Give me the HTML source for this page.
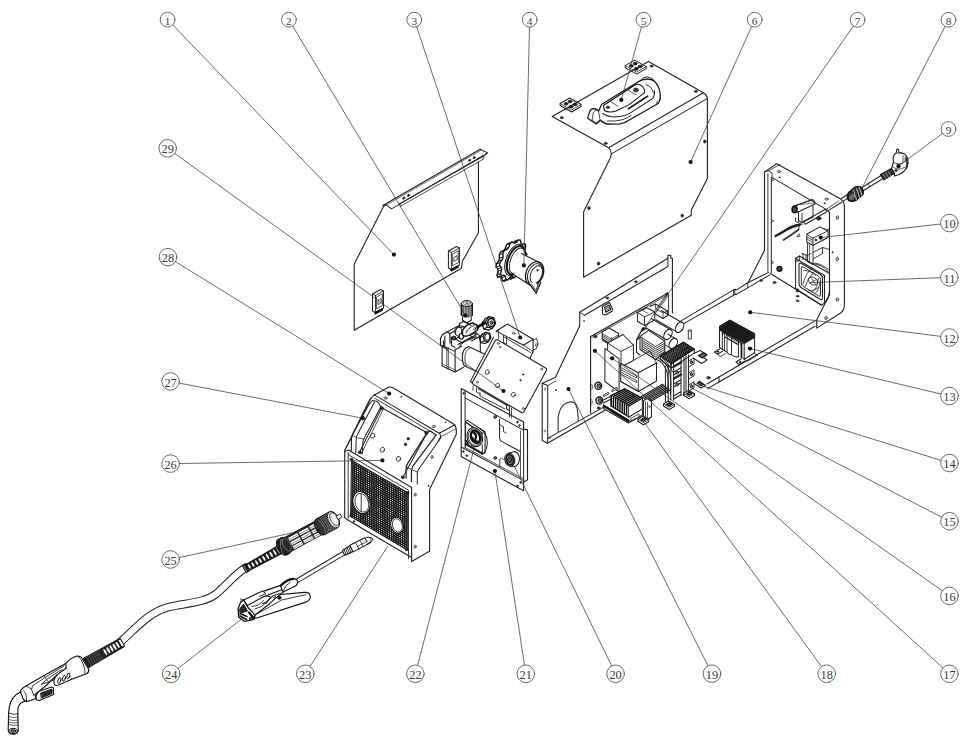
<!DOCTYPE html>
<html><head><meta charset="utf-8"><title>Exploded view</title><style>
html,body{margin:0;padding:0;background:#fff}
svg{display:block}
text{font-family:"Liberation Serif",serif;fill:#3a3a3a;text-anchor:middle}
</style></head><body>
<svg width="962" height="738" viewBox="0 0 962 738" stroke-linejoin="round" stroke-linecap="round">
<rect width="962" height="738" fill="#fff"/>
<g id="p_panel">
<path d="M383.5,206.5 L354.2,264.2 L354.2,330.2 L461.5,268.3 L462.3,261.5 L478.4,232.7 L478.4,161.8" stroke="#222" stroke-width="1.12" fill="none" />
<path d="M382.8,205.5 L480.1,149.2 L487.6,152.9 L391.6,208.9 L386.5,205.2 L382.8,205.5" stroke="#222" stroke-width="1.01" fill="none" />
<path d="M383.6,206.6 L480.6,150.4" stroke="#222" stroke-width="0.67" fill="none" />
<path d="M399.7,203.6 L483.6,156.0" stroke="#222" stroke-width="1.01" fill="none" />
<path d="M400.4,206.3 L482.9,159.4" stroke="#222" stroke-width="0.78" fill="none" />
<path d="M487.6,152.9 L483.5,157.2 L482.9,159.4" stroke="#222" stroke-width="0.9" fill="none" />
<path d="M399.7,203.6 L400.4,206.3" stroke="#222" stroke-width="0.78" fill="none" />
<ellipse cx="403.8" cy="198.1" rx="1.3" ry="0.9" transform="rotate(-30 403.8 198.1)" stroke="#111" stroke-width="0.5" fill="#111"/>
<ellipse cx="408.5" cy="195.4" rx="1.3" ry="0.9" transform="rotate(-30 408.5 195.4)" stroke="#111" stroke-width="0.5" fill="#111"/>
<ellipse cx="469.7" cy="160.3" rx="1.3" ry="0.9" transform="rotate(-30 469.7 160.3)" stroke="#111" stroke-width="0.5" fill="#111"/>
<ellipse cx="474.1" cy="157.7" rx="1.3" ry="0.9" transform="rotate(-30 474.1 157.7)" stroke="#111" stroke-width="0.5" fill="#111"/>
<path d="M448.4,251.0 L456.4,246.5 L459.4,248.0 L459.4,265.0 L451.4,269.5 L448.4,268.0 Z" stroke="#222" stroke-width="1.01" fill="none" />
<path d="M448.4,251.0 L451.4,252.5 L459.4,248.0" stroke="#222" stroke-width="0.9" fill="none" />
<path d="M451.4,252.5 L451.4,269.5" stroke="#222" stroke-width="0.9" fill="none" />
<path d="M452.7,254.0 L458.3,250.7 L458.3,262.5 L452.7,265.7 Z" stroke="#222" stroke-width="0.78" fill="none" />
<path d="M454.2,257.3 L457.1,255.6 L457.1,259.7 L454.2,261.4 Z" stroke="#222" stroke-width="0.78" fill="none" />
<path d="M450.3,270.7 L458.5,266.3" stroke="#111" stroke-width="2.46" fill="none" stroke-linecap="butt"/>
<path d="M372.5,294.0 L380.5,289.5 L383.5,291.0 L383.5,308.0 L375.5,312.5 L372.5,311.0 Z" stroke="#222" stroke-width="1.01" fill="none" />
<path d="M372.5,294.0 L375.5,295.5 L383.5,291.0" stroke="#222" stroke-width="0.9" fill="none" />
<path d="M375.5,295.5 L375.5,312.5" stroke="#222" stroke-width="0.9" fill="none" />
<path d="M376.8,297.0 L382.4,293.7 L382.4,305.5 L376.8,308.7 Z" stroke="#222" stroke-width="0.78" fill="none" />
<path d="M378.3,300.3 L381.2,298.6 L381.2,302.7 L378.3,304.4 Z" stroke="#222" stroke-width="0.78" fill="none" />
<path d="M374.4,313.7 L382.6,309.3" stroke="#111" stroke-width="2.46" fill="none" stroke-linecap="butt"/>
</g>
<g id="p_cover">
<path d="M552.2,116.4 L648.4,61.4 L703.4,92.7 Q707.4,95 707.4,99.5 L707.4,178.6 L691.3,210.1 L691.3,215.2 L583.6,277.2 L583.6,211.8 L610.2,158.3 Q612.8,152 608.6,147.7 Z" stroke="#222" stroke-width="1.12" fill="none" />
<path d="M608.6,147.7 L703.4,92.7" stroke="#222" stroke-width="1.01" fill="none" />
<path d="M611.8,153.6 L707.2,98.6" stroke="#222" stroke-width="1.01" fill="none" />
<ellipse cx="561.7" cy="117.7" rx="1.6" ry="1.1" transform="rotate(0 561.7 117.7)" stroke="#111" stroke-width="0.5" fill="#333"/>
<ellipse cx="651.6" cy="66.1" rx="1.6" ry="1.1" transform="rotate(0 651.6 66.1)" stroke="#111" stroke-width="0.5" fill="#333"/>
<ellipse cx="695.9" cy="91.4" rx="1.6" ry="1.1" transform="rotate(0 695.9 91.4)" stroke="#111" stroke-width="0.5" fill="#333"/>
<ellipse cx="605.7" cy="143.4" rx="1.6" ry="1.1" transform="rotate(0 605.7 143.4)" stroke="#111" stroke-width="0.5" fill="#333"/>
<ellipse cx="704.8" cy="141.5" rx="1.3" ry="1.7" transform="rotate(0 704.8 141.5)" stroke="#111" stroke-width="0.5" fill="#333"/>
<ellipse cx="588.9" cy="208.1" rx="1.3" ry="1.7" transform="rotate(0 588.9 208.1)" stroke="#111" stroke-width="0.5" fill="#333"/>
<ellipse cx="598.5" cy="263.6" rx="1.3" ry="1.7" transform="rotate(0 598.5 263.6)" stroke="#111" stroke-width="0.5" fill="#333"/>
<ellipse cx="682.2" cy="215.6" rx="1.3" ry="1.7" transform="rotate(0 682.2 215.6)" stroke="#111" stroke-width="0.5" fill="#333"/>
<path d="M560.1,103.5 L569.6,98.0 L581.1,104.5 L581.1,106.5 L571.6,112.0 L560.1,105.5 Z" stroke="#222" stroke-width="1.01" fill="none" />
<path d="M560.1,103.5 L571.6,110.0 L581.1,104.5" stroke="#222" stroke-width="0.78" fill="none" />
<ellipse cx="566.1" cy="103.8" rx="1.9" ry="1.3" transform="rotate(0 566.1 103.8)" stroke="#111" stroke-width="0.8" fill="#222"/>
<ellipse cx="570.1" cy="101.5" rx="1.9" ry="1.3" transform="rotate(0 570.1 101.5)" stroke="#111" stroke-width="0.8" fill="#222"/>
<ellipse cx="571.1" cy="106.8" rx="1.9" ry="1.3" transform="rotate(0 571.1 106.8)" stroke="#111" stroke-width="0.8" fill="#222"/>
<ellipse cx="575.1" cy="104.4" rx="1.9" ry="1.3" transform="rotate(0 575.1 104.4)" stroke="#111" stroke-width="0.8" fill="#222"/>
<path d="M625.2,65.6 L634.7,60.1 L646.2,66.6 L646.2,68.6 L636.7,74.1 L625.2,67.6 Z" stroke="#222" stroke-width="1.01" fill="none" />
<path d="M625.2,65.6 L636.7,72.1 L646.2,66.6" stroke="#222" stroke-width="0.78" fill="none" />
<ellipse cx="631.2" cy="65.9" rx="1.9" ry="1.3" transform="rotate(0 631.2 65.9)" stroke="#111" stroke-width="0.8" fill="#222"/>
<ellipse cx="635.2" cy="63.6" rx="1.9" ry="1.3" transform="rotate(0 635.2 63.6)" stroke="#111" stroke-width="0.8" fill="#222"/>
<ellipse cx="636.2" cy="68.9" rx="1.9" ry="1.3" transform="rotate(0 636.2 68.9)" stroke="#111" stroke-width="0.8" fill="#222"/>
<ellipse cx="640.2" cy="66.5" rx="1.9" ry="1.3" transform="rotate(0 640.2 66.5)" stroke="#111" stroke-width="0.8" fill="#222"/>
<path d="M587.6,118.4 L589.7,111.5 Q590.5,108.6 593.8,108.6 Q597.5,108.8 598.8,111.5 L600.3,120 L596.3,124 Z" stroke="#111" stroke-width="1.12" fill="#fff" />
<path d="M592,121.5 L593.2,113 Q594,110.3 596.8,110" stroke="#222" stroke-width="0.78" fill="none" />
<path d="M587.6,118.4 L596.3,122.5 L600.3,120" stroke="#222" stroke-width="0.67" fill="none" />
<path d="M599,110.5 L601.5,104.5 L637.9,82 Q641,79.6 645,79.3 Q650.5,78.6 654.5,81.3 Q659,86 660,92.5 Q661,98 659.3,101.5 Q658.5,103.5 656.5,104.5 L628.8,120.2 Q625,123.2 620,123.9 L610.5,124.2 Q604,124.2 600.3,120" stroke="#111" stroke-width="1.23" fill="#fff" />
<path d="M603.4,105.5 L634.9,85 Q638,83.5 641,85.4 Q645,88 644.6,92.6 L628.8,104.9 L616,111 Q609,113.3 604.5,110.5 Z" stroke="#111" stroke-width="1.01" fill="#fff" />
<path d="M604.5,110.5 Q603.3,108.8 603.4,105.5" stroke="#222" stroke-width="0.9" fill="none" />
<path d="M628.0,90.0 L636.0,94.8" stroke="#222" stroke-width="0.78" fill="none" />
<path d="M610.5,101.3 L617.5,106.3" stroke="#222" stroke-width="0.78" fill="none" />
<path d="M602.5,113.5 Q610,118.2 620.5,116.6 Q626,115.8 630,113.2 L652,99 Q655,96 654.5,90.5" stroke="#222" stroke-width="1.01" fill="none" />
<path d="M607.5,121 Q616,121.6 623,119.6 Q628,117.6 631,115.5" stroke="#222" stroke-width="0.9" fill="none" />
<path d="M628.5,108.8 L647.5,96.3" stroke="#222" stroke-width="1.79" fill="none" />
<path d="M646,84.5 Q652,86.5 653.5,93" stroke="#222" stroke-width="0.9" fill="none" />
<path d="M641.5,80.5 Q643.5,76.5 647.5,77 Q652.5,78 654.5,81.3" stroke="#222" stroke-width="1.01" fill="none" />
<path d="M645,79.8 Q647,78.2 649.5,79.2" stroke="#222" stroke-width="0.67" fill="none" />
<path d="M656.5,104.5 L657.2,101.0" stroke="#222" stroke-width="0.67" fill="none" />
<ellipse cx="635.9" cy="90.0" rx="2.4" ry="2.0" transform="rotate(0 635.9 90.0)" stroke="#111" stroke-width="0.7" fill="#444"/>
<ellipse cx="607.9" cy="107.3" rx="1.7" ry="1.3" transform="rotate(0 607.9 107.3)" stroke="#111" stroke-width="0.6" fill="#444"/>
</g>
<g id="p_rear">
<path d="M768.5,272.4 L747.3,283.0 L736.7,289.9 L734.8,289.3 L733.6,289.9 L680.6,321.1" stroke="#222" stroke-width="1.01" fill="none" />
<path d="M769.7,274.9 L748.5,287.4 L736.0,294.5 L735.4,294.3 L683.7,323.6" stroke="#222" stroke-width="1.01" fill="none" />
<path d="M734.8,289.3 L734.8,293.8 L736.0,294.5" stroke="#222" stroke-width="0.9" fill="none" />
<path d="M733.6,289.9 L733.6,294.5" stroke="#222" stroke-width="0.9" fill="none" />
<path d="M747.6,283.2 L747.9,287.6" stroke="#222" stroke-width="0.78" fill="none" />
<path d="M769.9,273.2 L821.4,305.0" stroke="#222" stroke-width="1.01" fill="none" />
<path d="M815.0,320.9 L719.0,377.0 L719.0,382.0 L815.0,326.3" stroke="#222" stroke-width="1.01" fill="none" />
<path d="M719.0,382.0 L707.7,388.6" stroke="#222" stroke-width="1.01" fill="none" />
<path d="M719.0,377.0 L707.0,384.0" stroke="#222" stroke-width="1.01" fill="none" />
<ellipse cx="708.5" cy="377.8" rx="1.8" ry="1.3" transform="rotate(0 708.5 377.8)" stroke="#111" stroke-width="0.6" fill="#444"/>
<ellipse cx="774.5" cy="282.5" rx="1.6" ry="1.1" transform="rotate(0 774.5 282.5)" stroke="#111" stroke-width="0.6" fill="#444"/>
<ellipse cx="761.0" cy="280.5" rx="1.3" ry="0.9" transform="rotate(0 761.0 280.5)" stroke="#111" stroke-width="0.6" fill="#444"/>
<ellipse cx="797.5" cy="291.2" rx="1.5" ry="0.9" transform="rotate(0 797.5 291.2)" stroke="#111" stroke-width="0.5" fill="#444"/>
<ellipse cx="797.5" cy="296.2" rx="1.5" ry="0.9" transform="rotate(0 797.5 296.2)" stroke="#111" stroke-width="0.5" fill="#444"/>
<ellipse cx="797.5" cy="300.8" rx="1.5" ry="0.9" transform="rotate(0 797.5 300.8)" stroke="#111" stroke-width="0.5" fill="#444"/>
<path d="M688.3,330.5 L688.3,339.0 L691.3,339.0 L691.3,330.5" stroke="#222" stroke-width="0.9" fill="none" />
<ellipse cx="689.8" cy="330.5" rx="1.5" ry="0.8" transform="rotate(0 689.8 330.5)" stroke="#222" stroke-width="0.7" fill="none"/>
<path d="M764.5,171.9 L776.7,163.8 L838.5,197.8 Q844.4,201 844.4,206 L844.4,305 Q844.4,311 839,314 L816.7,328.1 L816.7,320 L829.5,294.5 L829.5,212.5 L828.2,210.6" stroke="#222" stroke-width="1.12" fill="none" />
<path d="M764.5,171.9 L764.5,250.5 L747.9,283.0" stroke="#222" stroke-width="1.12" fill="none" />
<path d="M767.9,173.5 L767.9,271.8" stroke="#222" stroke-width="0.9" fill="none" />
<path d="M771.3,177.4 L771.3,272.5" stroke="#222" stroke-width="1.01" fill="none" />
<path d="M764.5,171.9 L768.5,170.8 L772.0,173.0 L772.0,177.4" stroke="#222" stroke-width="0.9" fill="none" />
<path d="M771.9,177.4 L828.2,210.6 L841.7,202.3" stroke="#222" stroke-width="1.01" fill="none" />
<path d="M768.5,170.8 L780.0,164.5" stroke="#222" stroke-width="0.78" fill="none" />
<path d="M826.2,209.4 L838.5,201.0" stroke="#222" stroke-width="0.78" fill="none" />
<ellipse cx="779.0" cy="171.5" rx="1.7" ry="1.2" transform="rotate(0 779.0 171.5)" stroke="#222" stroke-width="0.6" fill="#bbb"/>
<ellipse cx="779.6" cy="177.3" rx="0.7" ry="0.5" transform="rotate(0 779.6 177.3)" stroke="#111" stroke-width="0.5" fill="#111"/>
<ellipse cx="826.5" cy="199.0" rx="1.7" ry="1.2" transform="rotate(0 826.5 199.0)" stroke="#222" stroke-width="0.6" fill="#bbb"/>
<ellipse cx="824.6" cy="203.2" rx="0.7" ry="0.5" transform="rotate(0 824.6 203.2)" stroke="#111" stroke-width="0.5" fill="#111"/>
<ellipse cx="837.3" cy="217.5" rx="1.3" ry="1.8" transform="rotate(15 837.3 217.5)" stroke="#222" stroke-width="0.6" fill="#bbb"/>
<ellipse cx="837.3" cy="259.0" rx="1.3" ry="1.8" transform="rotate(15 837.3 259.0)" stroke="#222" stroke-width="0.6" fill="#bbb"/>
<ellipse cx="837.3" cy="299.5" rx="1.3" ry="1.8" transform="rotate(15 837.3 299.5)" stroke="#222" stroke-width="0.6" fill="#bbb"/>
<ellipse cx="826.0" cy="318.0" rx="1.3" ry="1.8" transform="rotate(15 826.0 318.0)" stroke="#222" stroke-width="0.6" fill="#bbb"/>
<ellipse cx="832.5" cy="252.2" rx="0.6" ry="0.6" transform="rotate(0 832.5 252.2)" stroke="#111" stroke-width="0.5" fill="#111"/>
<path d="M771.3,178.5 L773.8,180.0 L771.3,181.5" stroke="#222" stroke-width="0.78" fill="none" />
<path d="M771.3,219.5 L773.8,221.0 L771.3,222.5" stroke="#222" stroke-width="0.78" fill="none" />
<path d="M771.3,261.0 L773.8,262.5 L771.3,264.0" stroke="#222" stroke-width="0.78" fill="none" />
<path d="M793.5,206.5 L812,199.5 Q815.5,201 815,204 L797,212.5" stroke="#222" stroke-width="1.01" fill="none" />
<path d="M797,204.8 L815,203" stroke="#222" stroke-width="0.56" fill="none" />
<path d="M795.0,205.6 L813.0,199.9" stroke="#222" stroke-width="0.56" fill="none" />
<ellipse cx="794.6" cy="209.5" rx="2.6" ry="3.3" transform="rotate(0 794.6 209.5)" stroke="#111" stroke-width="1.4" fill="#444"/>
<path d="M798.5,212.0 L798.5,221.0 L802.0,222.5 L813.0,217.0 L813.0,206.0" stroke="#222" stroke-width="1.01" fill="none" />
<path d="M802.0,213.5 L802.0,222.5" stroke="#222" stroke-width="0.9" fill="none" />
<path d="M795.5,218.0 L795.5,221.5 L798.5,222.5" stroke="#222" stroke-width="0.9" fill="none" />
<path d="M803.5,221.5 L825.5,209.3 L827.0,211.5 L805.5,224.3 L803.5,221.5" stroke="#222" stroke-width="1.01" fill="none" />
<ellipse cx="818.8" cy="218.4" rx="2.2" ry="1.7" transform="rotate(0 818.8 218.4)" stroke="#111" stroke-width="0.8" fill="#333"/>
<path d="M775.5,236 Q782,232.5 786,230 Q792,226.5 800,224.5" stroke="#222" stroke-width="2.46" fill="none" />
<path d="M783.5,240 Q790,236 798.5,229.8" stroke="#333" stroke-width="1.68" fill="none" />
<path d="M786,229 Q793,224 803,224" stroke="#222" stroke-width="0.9" fill="none" />
<path d="M798.5,229.8 L799.5,224" stroke="#222" stroke-width="1.01" fill="none" />
<path d="M797.5,235.5 L799.3,234.0 L800.0,236.3 L797.5,236.8 Z" stroke="#222" stroke-width="0.78" fill="none" />
<path d="M806.8,234.3 L819.6,226.9 L828.1,230.8 L828.1,237.5 L813.0,245.2 L806.8,242.0 Z" stroke="#222" stroke-width="1.01" fill="none" />
<path d="M806.8,234.3 L813.0,238.1 L828.1,230.8" stroke="#222" stroke-width="0.9" fill="none" />
<path d="M813.0,238.1 L813.0,245.2" stroke="#222" stroke-width="0.9" fill="none" />
<path d="M807.3,237.0 L812.6,240.2" stroke="#222" stroke-width="0.78" fill="none" />
<path d="M807.3,239.2 L812.6,242.4" stroke="#222" stroke-width="0.78" fill="none" />
<ellipse cx="815.9" cy="240.0" rx="0.9" ry="1.1" transform="rotate(0 815.9 240.0)" stroke="#111" stroke-width="0.5" fill="#111"/>
<path d="M824.0,228.8 L826.5,230.0 L829.5,228.5" stroke="#222" stroke-width="0.78" fill="none" />
<path d="M807.5,242.5 L807.5,262.0 L813.0,264.5 L813.0,245.2" stroke="#222" stroke-width="0.9" fill="none" />
<path d="M809.5,243.5 L809.5,262.5" stroke="#222" stroke-width="0.67" fill="none" />
<path d="M813.0,252.5 L822.5,247.5 L829.5,249.5" stroke="#222" stroke-width="0.9" fill="none" />
<path d="M822.5,247.5 L822.5,253.5 L813.0,259.0" stroke="#222" stroke-width="0.9" fill="none" />
<path d="M795.6,258.5 L799.5,256.0 L803.5,258.5 L829.5,273.5" stroke="#222" stroke-width="1.01" fill="none" />
<path d="M795.6,258.5 L795.6,288.8 L821.5,305.3 L826.3,301.5 L829.5,294.5" stroke="#222" stroke-width="1.01" fill="none" />
<path d="M795.6,258.5 L824.5,275.5 L824.5,303.0" stroke="#222" stroke-width="1.01" fill="none" />
<path d="M799.5,256.0 L799.5,259.8" stroke="#222" stroke-width="0.78" fill="none" />
<path d="M803.0,253.3 L803.0,259.5" stroke="#222" stroke-width="0.9" fill="none" />
<path d="M806.0,254.5 L806.0,261.0" stroke="#222" stroke-width="0.9" fill="none" />
<path d="M802.0,253.5 L807.0,255.5 L811.0,253.5" stroke="#222" stroke-width="0.78" fill="none" />
<path d="M799,264.5 Q799,262.5 801.5,263.5 L820.5,274.5 Q822.5,276 822.5,278.5 L822.5,297.5 Q822.5,300.5 820,299.3 L801,287.5 Q799,286 799,283.5 Z" stroke="#222" stroke-width="1.12" fill="none" />
<path d="M801.3,267.5 Q801.3,266 803,266.8 L819,276.5 Q820.5,277.5 820.5,279.5 L820.5,295 Q820.5,297 818.8,296 L803,286.3 Q801.3,285.3 801.3,283.5 Z" stroke="#222" stroke-width="0.9" fill="none" />
<ellipse cx="813.0" cy="281.0" rx="5.2" ry="3.6" transform="rotate(32 813.0 281.0)" stroke="#222" stroke-width="0.8" fill="#fff"/>
<path d="M803,284 Q806,272 812,268.5" stroke="#222" stroke-width="0.78" fill="none" />
<path d="M805.5,286 Q809,276 815,271" stroke="#222" stroke-width="0.78" fill="none" />
<path d="M818.5,278 Q818,288 812,292.5" stroke="#222" stroke-width="0.78" fill="none" />
<path d="M820,282 Q819,291 814.5,294" stroke="#222" stroke-width="0.78" fill="none" />
<path d="M803.5,270.5 Q810,270 815.5,275.5" stroke="#222" stroke-width="0.78" fill="none" />
<path d="M809,290.5 Q815,291 819,287" stroke="#222" stroke-width="0.78" fill="none" />
<path d="M811,277.5 L815.5,284.5 M809.5,283 L817,279.5" stroke="#222" stroke-width="0.67" fill="none" />
<path d="M812,263.5 Q822,264 828.5,272" stroke="#222" stroke-width="0.9" fill="none" />
<path d="M815,263 Q823,264.5 829,270" stroke="#222" stroke-width="0.78" fill="none" />
<path d="M826,302 Q829,298 829.3,292" stroke="#222" stroke-width="0.9" fill="none" />
<ellipse cx="797.3" cy="260.8" rx="1.1" ry="1.1" transform="rotate(0 797.3 260.8)" stroke="#222" stroke-width="0.6" fill="none"/>
<ellipse cx="823.6" cy="276.8" rx="1.1" ry="1.1" transform="rotate(0 823.6 276.8)" stroke="#222" stroke-width="0.6" fill="none"/>
<ellipse cx="797.5" cy="289.5" rx="1.1" ry="1.1" transform="rotate(0 797.5 289.5)" stroke="#222" stroke-width="0.6" fill="none"/>
<ellipse cx="779.5" cy="268.8" rx="2.5" ry="2.5" transform="rotate(0 779.5 268.8)" stroke="#111" stroke-width="1.3" fill="#444"/>
<path d="M719.5,326.4 L729.9,320.2 L754.6,333.7 L754.6,352.8 L744.2,359.2 L744.2,339.9 L719.5,326.4" stroke="#222" stroke-width="1.01" fill="#fff" />
<path d="M719.5,326.4 L729.9,320.2 L754.6,333.7 L744.2,339.9 Z" stroke="#222" stroke-width="1.01" fill="#1a1a1a" />
<path d="M719.5,326.4 L744.2,339.9 L744.2,343.6 L719.5,330.0 Z" stroke="#222" stroke-width="1.01" fill="#1a1a1a" />
<path d="M754.6,333.7 L744.2,339.9 L744.2,343.6 L754.6,337.4 Z" stroke="#222" stroke-width="1.01" fill="#1a1a1a" />
<path d="M719.5,330.0 L719.5,347.5 L722.3,349.2" stroke="#222" stroke-width="1.12" fill="none" />
<path d="M722.3,331.5 L722.3,349.2 L726.0,351.5" stroke="#222" stroke-width="1.01" fill="none" />
<path d="M724.5,333 L724.5,350.5 M727,334.5 L727,352 M731.5,337.5 L731.5,354.5 M738.5,341.5 L738.5,356.5" stroke="#222" stroke-width="0.9" fill="none" />
<path d="M722.5,335 Q722.5,332.5 725,333.5 L738,341 Q741.5,343 741.5,346.5 L741.5,357" stroke="#222" stroke-width="1.01" fill="none" />
<path d="M727,352 Q729,355.5 731.5,354.5 M731.5,354.5 Q735,358 738.5,356.5" stroke="#222" stroke-width="1.01" fill="none" />
<path d="M744.2,359.2 L741.5,357.5" stroke="#222" stroke-width="0.9" fill="none" />
<path d="M725.0,337.0 L737.5,344.2" stroke="#222" stroke-width="1.34" fill="none" />
<path d="M726.0,335.2 L738.5,342.5" stroke="#222" stroke-width="0.67" fill="none" />
<path d="M741.5,343.5 L741.5,357.3" stroke="#222" stroke-width="1.79" fill="none" />
<path d="M719.5,349.0 L714.5,352.0 L717.5,354.3 L722.5,351.3" stroke="#222" stroke-width="1.01" fill="none" />
<path d="M717.5,354.3 L720.5,356.5 L725.5,353.5" stroke="#222" stroke-width="0.9" fill="none" />
<path d="M741.0,359.0 L736.0,362.0 L739.0,364.5 L745.0,361.0" stroke="#222" stroke-width="1.01" fill="none" />
<path d="M754.8,353.5 L757.5,355.0 L748.0,361.0 L745.0,359.8" stroke="#222" stroke-width="0.9" fill="none" />
<ellipse cx="717.8" cy="351.8" rx="0.9" ry="0.7" transform="rotate(0 717.8 351.8)" stroke="#111" stroke-width="0.5" fill="#111"/>
<ellipse cx="740.0" cy="362.0" rx="0.9" ry="0.7" transform="rotate(0 740.0 362.0)" stroke="#111" stroke-width="0.5" fill="#111"/>
<path d="M841.5,198.5 L850.5,192.3" stroke="#222" stroke-width="1.01" fill="none" />
<path d="M843.2,201.2 L851.5,195.8" stroke="#222" stroke-width="1.01" fill="none" />
<path d="M860.5,188.5 L881.5,175.3" stroke="#222" stroke-width="1.01" fill="none" />
<path d="M862.0,191.5 L883.0,178.5" stroke="#222" stroke-width="1.01" fill="none" />
<path d="M868.2,183.8 L869.6,186.8" stroke="#222" stroke-width="0.67" fill="none" />
<path d="M848.5,192.5 L855,187 Q858.5,185.5 861.5,187.5 Q864.5,190.5 863,194.5 L856,200.5 Q852,202.5 848.5,200.5 Q845.8,197 848.5,192.5 Z" stroke="#111" stroke-width="1.12" fill="#333" />
<ellipse cx="852.0" cy="197.0" rx="3.4" ry="4.2" transform="rotate(25 852.0 197.0)" stroke="#000" stroke-width="0.8" fill="#666"/>
<path d="M853.5,190.2 L856.5,199.8 M856.5,188.3 L859.5,197.5 M859,187 L862,195.5" stroke="#ddd" stroke-width="0.78" fill="none" />
<path d="M880.5,174.5 L891.5,168.5 L894.5,173.3 L884.0,179.8 Z" stroke="#111" stroke-width="1.12" fill="#333" />
<path d="M883,174 L886,178.5 M885.5,172.8 L888.5,177.3 M888,171.3 L891,175.8" stroke="#ccc" stroke-width="0.67" fill="none" />
<path d="M891.5,168.5 L893.5,162 Q892,155 896.5,152.8 L896.5,150 Q897.5,148.2 898.7,150 L898.7,152.3 Q905,152.5 907.5,158 Q909,163 906.5,168 Q904,172.5 899,174.5 L894.5,176 L894.5,173.3" stroke="#222" stroke-width="1.12" fill="none" />
<path d="M893.5,162 Q898,166 903.5,162.5 Q907,160 907.5,158" stroke="#222" stroke-width="0.9" fill="none" />
<path d="M896.5,152.8 Q899.5,154.5 903.5,153.5" stroke="#222" stroke-width="0.67" fill="none" />
<path d="M903,155.5 L903,161.5 M905.2,156.5 L905.2,160.5" stroke="#222" stroke-width="0.78" fill="none" />
<path d="M893,167 Q898,171 904.5,167.5" stroke="#222" stroke-width="0.78" fill="none" />
<path d="M906.5,168 Q907.8,162 906.2,158.5" stroke="#333" stroke-width="2.02" fill="none" />
<ellipse cx="896.0" cy="170.5" rx="1.4" ry="1.1" transform="rotate(0 896.0 170.5)" stroke="#111" stroke-width="0.6" fill="#555"/>
</g>
<g id="p_chassis">
<path d="M672.4,313.0 L672.4,258.3 L670.8,258.3 L670.8,255.2 L667.9,255.2 L667.9,258.3 L579.7,312.3 L579.7,325.9 L555.3,377.4 L542.2,383.2 L542.2,440.4 L547.4,443.3 L605.0,410.2" stroke="#222" stroke-width="1.12" fill="none" />
<path d="M584.5,315.2 L667.9,266.5 L667.9,258.3" stroke="#222" stroke-width="1.01" fill="none" />
<path d="M579.7,312.3 L584.5,315.2" stroke="#222" stroke-width="0.9" fill="none" />
<path d="M542.2,383.2 L547.7,385.5 L547.7,443.0" stroke="#222" stroke-width="1.01" fill="none" />
<path d="M547.7,385.5 L556.0,381.0" stroke="#222" stroke-width="0.78" fill="none" />
<path d="M547.7,438.4 L603.6,407.1" stroke="#222" stroke-width="1.01" fill="none" />
<path d="M558.1,431.5 L558.1,418 Q560,402.5 571.5,401.8 Q578.2,402 578.2,421" stroke="#222" stroke-width="1.01" fill="none" />
<ellipse cx="635.8" cy="281.8" rx="1.5" ry="1.0" transform="rotate(0 635.8 281.8)" stroke="#111" stroke-width="0.5" fill="#333"/>
<ellipse cx="607.3" cy="298.0" rx="1.5" ry="1.0" transform="rotate(0 607.3 298.0)" stroke="#111" stroke-width="0.5" fill="#333"/>
<ellipse cx="555.9" cy="390.2" rx="0.7" ry="0.7" transform="rotate(0 555.9 390.2)" stroke="#111" stroke-width="0.4" fill="#111"/>
<ellipse cx="584.0" cy="321.0" rx="0.5" ry="0.5" transform="rotate(0 584.0 321.0)" stroke="#111" stroke-width="0.4" fill="#111"/>
<ellipse cx="544.8" cy="389.0" rx="0.7" ry="1.1" transform="rotate(0 544.8 389.0)" stroke="#222" stroke-width="0.5" fill="none"/>
<ellipse cx="544.8" cy="431.0" rx="0.7" ry="1.1" transform="rotate(0 544.8 431.0)" stroke="#222" stroke-width="0.5" fill="none"/>
<ellipse cx="549.5" cy="438.0" rx="1" ry="0.8" transform="rotate(0 549.5 438.0)" stroke="#222" stroke-width="0.5" fill="none"/>
<path d="M602.5,306.5 L609.5,302.5 L612.3,309.0 L612.3,311.0 L605.5,315.0 L602.5,314.0 Z" stroke="#222" stroke-width="1.12" fill="none" />
<path d="M604.5,307.5 L609.0,305.0 L610.8,309.5 L606.0,312.3 Z" stroke="#222" stroke-width="1.12" fill="none" />
<path d="M606.0,308.5 L609.0,307.0" stroke="#222" stroke-width="0.9" fill="none" />
<path d="M606.5,310.3 L609.7,308.6" stroke="#222" stroke-width="0.9" fill="none" />
<path d="M590.6,413.0 L590.6,336.6 L667.2,293.6" stroke="#222" stroke-width="1.12" fill="none" />
<path d="M592.0,337.5 L667.2,295.2" stroke="#222" stroke-width="0.78" fill="none" />
<path d="M668.6,295.0 L668.6,314.0" stroke="#222" stroke-width="0.9" fill="none" />
<ellipse cx="595.3" cy="336.5" rx="1.6" ry="1.3" transform="rotate(0 595.3 336.5)" stroke="#111" stroke-width="0.8" fill="#444"/>
<ellipse cx="667.2" cy="293.8" rx="1.2" ry="1.2" transform="rotate(0 667.2 293.8)" stroke="#111" stroke-width="0.6" fill="#222"/>
<path d="M667.0,294.0 L655.0,310.5" stroke="#222" stroke-width="0.78" fill="none" />
<path d="M668.0,296.0 L650.0,321.0 L644.0,329.8" stroke="#222" stroke-width="0.78" fill="none" />
<path d="M644.0,329.8 L640.5,332.5 L642.5,327.5 L646.3,328.7 Z" stroke="#222" stroke-width="0.78" fill="#111" />
<path d="M640.5,332.5 L636.5,340.0" stroke="#222" stroke-width="1.34" fill="none" />
<ellipse cx="598.3" cy="385.8" rx="3.4" ry="3.6" transform="rotate(0 598.3 385.8)" stroke="#111" stroke-width="1.3" fill="#fff"/>
<ellipse cx="598.8" cy="385.8" rx="1.8" ry="2" transform="rotate(0 598.8 385.8)" stroke="#111" stroke-width="1.0" fill="#777"/>
<ellipse cx="599.3" cy="400.6" rx="3.4" ry="3.6" transform="rotate(0 599.3 400.6)" stroke="#111" stroke-width="1.3" fill="#fff"/>
<ellipse cx="599.8" cy="400.6" rx="1.8" ry="2" transform="rotate(0 599.8 400.6)" stroke="#111" stroke-width="1.0" fill="#777"/>
<ellipse cx="598.6" cy="408.0" rx="1.4" ry="1.2" transform="rotate(0 598.6 408.0)" stroke="#111" stroke-width="0.8" fill="#555"/>
<ellipse cx="591.5" cy="387.0" rx="0.9" ry="3" transform="rotate(0 591.5 387.0)" stroke="#222" stroke-width="0.5" fill="none"/>
<ellipse cx="591.3" cy="402.0" rx="0.9" ry="3" transform="rotate(0 591.3 402.0)" stroke="#222" stroke-width="0.5" fill="none"/>
<path d="M637.4,312.5 L646.9,307.8 L654.8,312.0 L654.8,320.0 L644.5,325.5 L637.4,321.3 Z" stroke="#222" stroke-width="1.01" fill="#fff" />
<path d="M637.4,312.5 L644.5,316.8 L654.8,312.0" stroke="#222" stroke-width="0.9" fill="none" />
<path d="M644.5,316.8 L644.5,325.5" stroke="#222" stroke-width="0.9" fill="none" />
<path d="M641.0,309.5 L648.0,313.5" stroke="#222" stroke-width="0.67" fill="none" />
<path d="M650.0,306.5 L655.5,304.0 L667.5,311.0 L667.5,315.5 L663.0,318.5 L655.5,314.0" stroke="#222" stroke-width="1.01" fill="none" />
<path d="M655.5,304.0 L655.5,308.5 L663.0,313.0 L667.5,311.0" stroke="#222" stroke-width="0.78" fill="none" />
<path d="M663.0,313.0 L663.0,318.5" stroke="#222" stroke-width="0.78" fill="none" />
<path d="M661.2,310.5 L682.3,322.7" stroke="#222" stroke-width="1.01" fill="none" />
<path d="M655.9,319.7 L676.9,331.9" stroke="#222" stroke-width="1.01" fill="none" />
<ellipse cx="679.6" cy="327.3" rx="3.6" ry="5.6" transform="rotate(30 679.6 327.3)" stroke="#111" stroke-width="1.1" fill="#fff"/>
<path d="M651.2,318.5 L670.7,329.8" stroke="#222" stroke-width="1.01" fill="none" />
<path d="M645.9,327.7 L665.3,339.0" stroke="#222" stroke-width="1.01" fill="none" />
<ellipse cx="668.0" cy="334.4" rx="3.6" ry="5.6" transform="rotate(30 668.0 334.4)" stroke="#111" stroke-width="1.1" fill="#fff"/>
<path d="M667.9,334.2 L676.0,338.9" stroke="#222" stroke-width="1.01" fill="none" />
<path d="M662.5,343.4 L670.6,348.1" stroke="#222" stroke-width="1.01" fill="none" />
<ellipse cx="673.3" cy="343.5" rx="3.6" ry="5.6" transform="rotate(30 673.3 343.5)" stroke="#111" stroke-width="1.1" fill="#fff"/>
<path d="M602.2,331.8 L609.0,328.0 L618.5,333.5 L618.5,341.0 L611.5,345.0 L602.2,339.5 Z" stroke="#222" stroke-width="1.01" fill="#fff" />
<path d="M602.2,333.5 L611.5,339.0 L618.5,335.0" stroke="#222" stroke-width="0.78" fill="none" />
<path d="M602.2,335.2 L611.5,340.7 L618.5,336.7" stroke="#222" stroke-width="0.78" fill="none" />
<path d="M602.2,336.9 L611.5,342.4 L618.5,338.4" stroke="#222" stroke-width="0.78" fill="none" />
<path d="M602.2,338.6 L611.5,344.1 L618.5,340.1" stroke="#222" stroke-width="0.78" fill="none" />
<path d="M602.2,340.3 L611.5,345.8 L618.5,341.8" stroke="#222" stroke-width="0.78" fill="none" />
<path d="M611.5,337.5 L611.5,345.0" stroke="#222" stroke-width="0.78" fill="none" />
<path d="M607.6,343.0 L623.0,334.5 L633.4,345.0 L633.4,360.5 L621.0,367.0 L607.6,358.0 Z" stroke="#222" stroke-width="1.01" fill="#fff" />
<path d="M607.6,343.0 L621.0,351.5 L633.4,345.0" stroke="#222" stroke-width="0.9" fill="none" />
<path d="M621.0,351.5 L621.0,367.0" stroke="#222" stroke-width="0.9" fill="none" />
<path d="M604.9,348.4 L619.1,358.8 L619.1,392.0 L604.9,381.5 Z" stroke="#222" stroke-width="1.01" fill="#fff" />
<path d="M640.0,336.5 L648.3,330.3 L664.8,341.0 L664.8,352.0 L655.5,359.5 L640.0,349.5 Z" stroke="#222" stroke-width="1.01" fill="#fff" />
<path d="M640.0,336.5 L655.5,346.5 L664.8,341.0" stroke="#222" stroke-width="0.9" fill="none" />
<path d="M642.0,340.1 L655.5,348.6 L664.8,343.1" stroke="#222" stroke-width="0.9" fill="none" />
<path d="M642.0,342.2 L655.5,350.7 L664.8,345.2" stroke="#222" stroke-width="0.9" fill="none" />
<path d="M642.0,344.3 L655.5,352.8 L664.8,347.3" stroke="#222" stroke-width="0.9" fill="none" />
<path d="M642.0,346.4 L655.5,354.9 L664.8,349.4" stroke="#222" stroke-width="0.9" fill="none" />
<path d="M642.0,348.5 L655.5,357.0 L664.8,351.5" stroke="#222" stroke-width="0.9" fill="none" />
<path d="M642.0,338.0 L642.0,350.5" stroke="#222" stroke-width="0.78" fill="none" />
<path d="M636.5,340.0 L636.5,352.5 L640.0,355.0" stroke="#222" stroke-width="1.01" fill="none" />
<path d="M636.5,340.0 L640.0,337.5" stroke="#222" stroke-width="1.01" fill="none" />
<path d="M660.5,356.0 L683.5,342.3 L694.3,349.1 L671.3,363.8 Z" stroke="#222" stroke-width="1.01" fill="#fff" />
<path d="M660.5,356.0 L683.5,342.3" stroke="#111" stroke-width="1.01" fill="none" />
<path d="M661.4,356.6 L684.4,342.9" stroke="#111" stroke-width="1.01" fill="none" />
<path d="M662.3,357.3 L685.3,343.4" stroke="#111" stroke-width="1.01" fill="none" />
<path d="M663.2,357.9 L686.2,344.0" stroke="#111" stroke-width="1.01" fill="none" />
<path d="M664.1,358.6 L687.1,344.6" stroke="#111" stroke-width="1.01" fill="none" />
<path d="M665.0,359.2 L688.0,345.1" stroke="#111" stroke-width="1.01" fill="none" />
<path d="M665.9,359.9 L688.9,345.7" stroke="#111" stroke-width="1.01" fill="none" />
<path d="M666.8,360.6 L689.8,346.3" stroke="#111" stroke-width="1.01" fill="none" />
<path d="M667.7,361.2 L690.7,346.8" stroke="#111" stroke-width="1.01" fill="none" />
<path d="M668.6,361.9 L691.6,347.4" stroke="#111" stroke-width="1.01" fill="none" />
<path d="M669.5,362.5 L692.5,348.0" stroke="#111" stroke-width="1.01" fill="none" />
<path d="M670.4,363.2 L693.4,348.5" stroke="#111" stroke-width="1.01" fill="none" />
<path d="M671.3,363.8 L694.3,349.1" stroke="#111" stroke-width="1.01" fill="none" />
<path d="M671.3,363.8 L671.3,368.0 L694.3,353.2 L694.3,349.1" stroke="#222" stroke-width="1.01" fill="none" />
<path d="M660.5,356.0 L660.5,359.5 L671.3,368.0" stroke="#222" stroke-width="1.01" fill="none" />
<path d="M620.7,363.2 L638.3,372.7 L656.5,363.0 L656.5,381.0 L638.3,391.5 L620.7,381.5 Z" stroke="#222" stroke-width="1.01" fill="#fff" />
<path d="M638.3,372.7 L638.3,391.5" stroke="#222" stroke-width="0.9" fill="none" />
<path d="M621.0,367.5 L636.5,376.0 L636.5,378.0 L621.0,369.7" stroke="#222" stroke-width="0.78" fill="none" />
<path d="M621.0,372.0 L636.5,380.5 L636.5,382.5 L621.0,374.2" stroke="#222" stroke-width="0.78" fill="none" />
<path d="M620.7,381.5 L636.5,390.5" stroke="#222" stroke-width="0.78" fill="none" />
<path d="M633.4,360.5 L650.0,351.0 L656.5,363.0" stroke="#222" stroke-width="0.9" fill="none" />
<path d="M656.5,359.5 Q664,362 667,372 Q669,381 667.5,393" stroke="#222" stroke-width="1.01" fill="none" />
<path d="M659,358.5 Q667,362 670,373 Q671.5,383 670.5,394" stroke="#222" stroke-width="1.01" fill="none" />
<path d="M662.5,358.5 Q669,363 672.5,372" stroke="#222" stroke-width="0.9" fill="none" />
<path d="M611.2,395.6 L624.7,388.8 L642.3,398.3 L628.8,406.4 Z" stroke="#222" stroke-width="1.01" fill="#fff" />
<path d="M611.2,395.6 L624.7,388.8" stroke="#111" stroke-width="1.51" fill="none" />
<path d="M613.0,396.7 L626.5,389.8" stroke="#111" stroke-width="1.51" fill="none" />
<path d="M614.7,397.8 L628.2,390.7" stroke="#111" stroke-width="1.51" fill="none" />
<path d="M616.5,398.8 L630.0,391.7" stroke="#111" stroke-width="1.51" fill="none" />
<path d="M618.2,399.9 L631.7,392.6" stroke="#111" stroke-width="1.51" fill="none" />
<path d="M620.0,401.0 L633.5,393.6" stroke="#111" stroke-width="1.51" fill="none" />
<path d="M621.8,402.1 L635.3,394.5" stroke="#111" stroke-width="1.51" fill="none" />
<path d="M623.5,403.2 L637.0,395.4" stroke="#111" stroke-width="1.51" fill="none" />
<path d="M625.3,404.2 L638.8,396.4" stroke="#111" stroke-width="1.51" fill="none" />
<path d="M627.0,405.3 L640.5,397.4" stroke="#111" stroke-width="1.51" fill="none" />
<path d="M628.8,406.4 L642.3,398.3" stroke="#111" stroke-width="1.51" fill="none" />
<path d="M611.2,395.6 L611.2,406.0 L628.8,417.0 L628.8,406.4" stroke="#222" stroke-width="1.01" fill="#fff" />
<path d="M611.2,395.6 L611.2,406.0" stroke="#111" stroke-width="1.46" fill="none" />
<path d="M613.4,397.0 L613.4,407.4" stroke="#111" stroke-width="1.46" fill="none" />
<path d="M615.6,398.3 L615.6,408.7" stroke="#111" stroke-width="1.46" fill="none" />
<path d="M617.8,399.7 L617.8,410.1" stroke="#111" stroke-width="1.46" fill="none" />
<path d="M620.0,401.0 L620.0,411.4" stroke="#111" stroke-width="1.46" fill="none" />
<path d="M622.2,402.4 L622.2,412.8" stroke="#111" stroke-width="1.46" fill="none" />
<path d="M624.4,403.7 L624.4,414.1" stroke="#111" stroke-width="1.46" fill="none" />
<path d="M626.6,405.1 L626.6,415.5" stroke="#111" stroke-width="1.46" fill="none" />
<path d="M628.8,406.4 L628.8,416.8" stroke="#111" stroke-width="1.46" fill="none" />
<path d="M628.8,406.4 L642.3,398.3 L642.3,409.0 L628.8,417.0" stroke="#222" stroke-width="1.01" fill="#fff" />
<path d="M641.5,396.5 L662.5,384.2" stroke="#1a1a1a" stroke-width="1.12" fill="none" />
<path d="M642.8,397.4 L663.8,385.1" stroke="#1a1a1a" stroke-width="1.12" fill="none" />
<path d="M644.1,398.4 L665.1,386.1" stroke="#1a1a1a" stroke-width="1.12" fill="none" />
<path d="M645.4,399.4 L666.4,387.1" stroke="#1a1a1a" stroke-width="1.12" fill="none" />
<path d="M646.7,400.3 L667.7,388.0" stroke="#1a1a1a" stroke-width="1.12" fill="none" />
<path d="M648.0,401.2 L669.0,388.9" stroke="#1a1a1a" stroke-width="1.12" fill="none" />
<path d="M649.3,402.2 L670.3,389.9" stroke="#1a1a1a" stroke-width="1.12" fill="none" />
<path d="M603.5,404.5 L603.5,408.5 L628.5,423.0 L642.5,415.0 L642.5,410.0" stroke="#222" stroke-width="1.01" fill="none" />
<path d="M604.0,406.0 L612.0,410.8" stroke="#111" stroke-width="2.46" fill="none" />
<path d="M612.0,411.0 L628.5,420.8" stroke="#111" stroke-width="2.69" fill="none" />
<path d="M603.5,400.0 L611.0,396.0" stroke="#222" stroke-width="1.01" fill="none" />
<path d="M603.5,403.0 L611.0,399.0" stroke="#222" stroke-width="1.01" fill="none" />
<path d="M603.8,395.8 L608.2,393.2" stroke="#222" stroke-width="2.24" fill="none" />
<path d="M603.8,395.8 L608.2,393.2" stroke="#fff" stroke-width="0.9" fill="none" />
<path d="M612.3,390.8 L616.7,388.2" stroke="#222" stroke-width="2.24" fill="none" />
<path d="M612.3,390.8 L616.7,388.2" stroke="#fff" stroke-width="0.9" fill="none" />
<path d="M643.5,400.5 L647.0,398.5 L651.5,401.0 L651.5,417.0 L648.0,419.0 L643.5,416.5 Z" stroke="#222" stroke-width="1.01" fill="#fff" />
<path d="M645.5,401.5 L645.5,417.5" stroke="#222" stroke-width="0.78" fill="none" />
<path d="M647.5,402.5 L647.5,418.5" stroke="#222" stroke-width="0.78" fill="none" />
<ellipse cx="649.5" cy="406.5" rx="0.8" ry="1.2" transform="rotate(0 649.5 406.5)" stroke="#222" stroke-width="0.6" fill="none"/>
<path d="M631.0,417.5 L631.0,421.0 L636.0,418.2" stroke="#222" stroke-width="0.9" fill="none" />
<path d="M632.5,417.5 L639.0,414.0 L639.0,416.5" stroke="#222" stroke-width="0.78" fill="none" />
<path d="M637.8,419.3 L642.8,416.3 L648.8,419.8 L648.8,421.8 L643.3,424.8 L637.8,421.3 Z" stroke="#222" stroke-width="1.01" fill="#fff" />
<path d="M637.8,419.3 L643.3,422.6 L648.8,419.8" stroke="#222" stroke-width="0.78" fill="none" />
<path d="M640.8,419.8 L643.8,418.1 L646.3,419.5 L643.3,421.3 Z" stroke="#111" stroke-width="1.12" fill="#555" />
<path d="M663.5,404.0 L668.5,401.0 L674.5,404.5 L674.5,406.5 L669.0,409.5 L663.5,406.0 Z" stroke="#222" stroke-width="1.01" fill="#fff" />
<path d="M663.5,404.0 L669.0,407.3 L674.5,404.5" stroke="#222" stroke-width="0.78" fill="none" />
<path d="M666.5,404.5 L669.5,402.8 L672.0,404.2 L669.0,406.0 Z" stroke="#111" stroke-width="1.12" fill="#555" />
<path d="M683.5,393.3 L688.5,390.3 L694.5,393.8 L694.5,395.8 L689.0,398.8 L683.5,395.3 Z" stroke="#222" stroke-width="1.01" fill="#fff" />
<path d="M683.5,393.3 L689.0,396.6 L694.5,393.8" stroke="#222" stroke-width="0.78" fill="none" />
<path d="M686.5,393.8 L689.5,392.1 L692.0,393.5 L689.0,395.3 Z" stroke="#111" stroke-width="1.12" fill="#555" />
<path d="M665.4,366.0 L665.4,402.0" stroke="#222" stroke-width="1.01" fill="none" />
<path d="M668.2,366.0 L668.2,402.0" stroke="#222" stroke-width="1.01" fill="none" />
<path d="M670.8,363.0 L670.8,400.0" stroke="#222" stroke-width="1.01" fill="none" />
<path d="M673.6,363.0 L673.6,400.0" stroke="#222" stroke-width="1.01" fill="none" />
<path d="M681.0,357.6 L681.0,395.6" stroke="#222" stroke-width="1.01" fill="none" />
<path d="M684.0,357.6 L684.0,395.6" stroke="#222" stroke-width="1.01" fill="none" />
<path d="M686.0,355.0 L686.0,392.0" stroke="#222" stroke-width="1.01" fill="none" />
<path d="M688.5,355.0 L688.5,392.0" stroke="#222" stroke-width="1.01" fill="none" />
<path d="M673.6,372.0 L681.0,367.8" stroke="#222" stroke-width="1.01" fill="none" />
<path d="M673.6,375.0 L681.0,370.8" stroke="#222" stroke-width="1.01" fill="none" />
<path d="M673.6,384.0 L681.0,379.8" stroke="#222" stroke-width="1.01" fill="none" />
<path d="M673.6,387.0 L681.0,382.8" stroke="#222" stroke-width="1.01" fill="none" />
<path d="M673.6,396.0 L681.0,391.8" stroke="#222" stroke-width="1.01" fill="none" />
<path d="M673.6,399.0 L681.0,394.8" stroke="#222" stroke-width="1.01" fill="none" />
<path d="M688.5,361.0 L694.0,357.8 L694.0,364.0 L688.5,367.0" stroke="#222" stroke-width="0.9" fill="none" />
<ellipse cx="691.5" cy="362.2" rx="1.3" ry="1.6" transform="rotate(0 691.5 362.2)" stroke="#111" stroke-width="0.7" fill="#666"/>
<path d="M688.5,373.0 L694.0,369.8 L694.0,376.0 L688.5,379.0" stroke="#222" stroke-width="0.9" fill="none" />
<ellipse cx="691.5" cy="374.2" rx="1.3" ry="1.6" transform="rotate(0 691.5 374.2)" stroke="#111" stroke-width="0.7" fill="#666"/>
<path d="M688.5,385.0 L694.0,381.8 L694.0,388.0 L688.5,391.0" stroke="#222" stroke-width="0.9" fill="none" />
<ellipse cx="691.5" cy="386.2" rx="1.3" ry="1.6" transform="rotate(0 691.5 386.2)" stroke="#111" stroke-width="0.7" fill="#666"/>
<ellipse cx="677.2" cy="372.5" rx="1.4" ry="1.6" transform="rotate(0 677.2 372.5)" stroke="#111" stroke-width="0.7" fill="#666"/>
<ellipse cx="677.2" cy="384.5" rx="1.4" ry="1.6" transform="rotate(0 677.2 384.5)" stroke="#111" stroke-width="0.7" fill="#666"/>
<path d="M674.0,366.5 L681.0,362.5" stroke="#222" stroke-width="2.46" fill="none" />
<path d="M674.0,378.5 L681.0,374.5" stroke="#222" stroke-width="2.46" fill="none" />
<path d="M694.0,353.5 L700.0,350.5 L706.5,354.5 L703.0,357.0 L707.0,360.0 L701.5,363.5 L694.0,358.5" stroke="#222" stroke-width="1.01" fill="#fff" />
<path d="M698.5,355.5 L703.5,352.8 L707.0,355.0 L702.0,358.0 Z" stroke="#111" stroke-width="1.01" fill="#666" />
<path d="M694.0,383.5 L701.0,388.0 L705.5,385.5 L699.0,381.0" stroke="#222" stroke-width="1.01" fill="none" />
<path d="M697.0,383.2 L701.0,385.8 L703.5,384.4 L699.5,381.8 Z" stroke="#111" stroke-width="1.01" fill="#555" />
</g>
<g id="p_front">
<path d="M461.2,388.6 L523.6,422.1 L523.6,429.1 L527.5,429.9 L527.5,479.8 L523.6,482.2 L523.6,490.8 L461.2,456.4 Z" stroke="#222" stroke-width="1.12" fill="none" />
<path d="M465.1,397.9 L522.9,429.9" stroke="#222" stroke-width="1.01" fill="none" />
<path d="M465.1,391.0 L465.1,447.5" stroke="#222" stroke-width="1.01" fill="none" />
<path d="M461.2,447.0 L523.6,480.6" stroke="#222" stroke-width="1.01" fill="none" />
<path d="M465.1,447.5 L523.6,478.8" stroke="#222" stroke-width="0.78" fill="none" />
<path d="M523.6,429.1 L523.6,482.2" stroke="#222" stroke-width="1.01" fill="none" />
<path d="M520.5,431.0 L520.5,477.5" stroke="#222" stroke-width="0.78" fill="none" />
<path d="M499.5,419 L499.5,437.5 Q499.8,441 503.4,442.4 L520.5,451.5" stroke="#222" stroke-width="1.01" fill="none" />
<path d="M499.5,424.5 L503.5,426.8 L503.5,431.5 L506.0,433.0" stroke="#222" stroke-width="0.9" fill="none" />
<ellipse cx="463.6" cy="393.3" rx="0.8" ry="1.0" transform="rotate(0 463.6 393.3)" stroke="#111" stroke-width="0.5" fill="#333"/>
<ellipse cx="466.7" cy="455.7" rx="0.8" ry="1.0" transform="rotate(0 466.7 455.7)" stroke="#111" stroke-width="0.5" fill="#333"/>
<ellipse cx="517.4" cy="422.1" rx="0.8" ry="1.0" transform="rotate(0 517.4 422.1)" stroke="#111" stroke-width="0.5" fill="#333"/>
<ellipse cx="517.4" cy="486.1" rx="0.8" ry="1.0" transform="rotate(0 517.4 486.1)" stroke="#111" stroke-width="0.5" fill="#333"/>
<ellipse cx="463.3" cy="451.5" rx="0.8" ry="1.0" transform="rotate(0 463.3 451.5)" stroke="#111" stroke-width="0.5" fill="#333"/>
<ellipse cx="519.5" cy="425.5" rx="0.8" ry="1.0" transform="rotate(0 519.5 425.5)" stroke="#111" stroke-width="0.5" fill="#333"/>
<ellipse cx="520.5" cy="482.5" rx="0.8" ry="1.0" transform="rotate(0 520.5 482.5)" stroke="#111" stroke-width="0.5" fill="#333"/>
<ellipse cx="495.2" cy="417.0" rx="1.4" ry="1.4" transform="rotate(0 495.2 417.0)" stroke="#111" stroke-width="0.8" fill="#666"/>
<ellipse cx="495.2" cy="458.0" rx="1.4" ry="1.4" transform="rotate(0 495.2 458.0)" stroke="#111" stroke-width="0.8" fill="#666"/>
<path d="M465.5,421.5 L467.5,420.3 L485.1,432.0 L485.1,452.7 L482.3,454.2 L482.3,445.0" stroke="#222" stroke-width="1.01" fill="none" />
<path d="M465.5,421.5 L465.5,446.0" stroke="#222" stroke-width="0.9" fill="none" />
<path d="M466.2,422.5 L482.5,433.5" stroke="#111" stroke-width="1.46" fill="none" />
<path d="M466.0,444.2 L482.3,453.6" stroke="#111" stroke-width="2.02" fill="none" />
<path d="M466.0,440.5 L468.0,443.5 L466.0,444.2" stroke="#111" stroke-width="1.68" fill="none" />
<path d="M480,428.5 Q487,433 487.3,442 Q487.3,449 484,452.8" stroke="#222" stroke-width="1.01" fill="none" />
<ellipse cx="474.8" cy="437.2" rx="7.6" ry="9.7" transform="rotate(-20 474.8 437.2)" stroke="#111" stroke-width="1.0" fill="#fff"/>
<ellipse cx="474.9" cy="437.2" rx="6.4" ry="8.4" transform="rotate(-20 474.9 437.2)" stroke="#333" stroke-width="0.8" fill="#fff"/>
<ellipse cx="475.5" cy="436.8" rx="4.4" ry="6.4" transform="rotate(-20 475.5 436.8)" stroke="#111" stroke-width="2.4" fill="#fff"/>
<path d="M473.5,432.5 Q477.5,435 475.5,438.5 Q474.5,441 477.5,441.8" stroke="#111" stroke-width="2.24" fill="none" />
<path d="M472.5,437.5 Q473,440.5 475,442" stroke="#111" stroke-width="1.57" fill="none" />
<path d="M509,453 L515,451.5 Q519.5,453.5 519.5,459 Q519.5,464 515,466.5 L510.5,466.8" stroke="#222" stroke-width="1.01" fill="none" />
<ellipse cx="509.8" cy="459.8" rx="4.9" ry="6.6" transform="rotate(-15 509.8 459.8)" stroke="#111" stroke-width="1.0" fill="#fff"/>
<ellipse cx="509.8" cy="459.8" rx="3.6" ry="5.2" transform="rotate(-15 509.8 459.8)" stroke="#111" stroke-width="1.6" fill="#999"/>
<ellipse cx="509.8" cy="459.8" rx="2.0" ry="3.2" transform="rotate(-15 509.8 459.8)" stroke="#111" stroke-width="0.8" fill="#555"/>
<path d="M499.8,459.5 L501.5,458.2 L503.5,459.5" stroke="#222" stroke-width="0.78" fill="none" />
<path d="M499.8,459.5 L499.8,467.5" stroke="#222" stroke-width="0.78" fill="none" />
<path d="M374.3,394.9 L388.5,387.3 Q390.6,386.5 392.5,387.6 L452.5,423.2 Q456.3,425.8 456.3,430.5 L456.3,434.2 L429.6,489.4 L429.6,551.2 L411.6,561.6 L411.6,487.6" stroke="#222" stroke-width="1.12" fill="none" />
<path d="M374.3,394.9 Q370.5,397.5 368.5,402 L344.7,450.5 L344.7,517.6" stroke="#222" stroke-width="1.12" fill="none" />
<path d="M374.3,394.9 L439.3,433.2 L455.0,424.7" stroke="#222" stroke-width="1.01" fill="none" />
<path d="M439.3,433.2 Q440.8,434.5 440.5,437 L438,441.5" stroke="#222" stroke-width="1.01" fill="none" />
<path d="M375.0,398.3 L436.5,435.0" stroke="#222" stroke-width="0.9" fill="none" />
<path d="M440.5,437.0 L456.3,428.5" stroke="#222" stroke-width="0.67" fill="none" />
<path d="M348.2,452.5 L348.2,518.5" stroke="#222" stroke-width="0.9" fill="none" />
<path d="M346.5,447.5 L371.0,398.5" stroke="#222" stroke-width="0.78" fill="none" />
<path d="M344.7,451.5 L348.5,450.0 L411.7,487.6" stroke="#222" stroke-width="1.12" fill="none" />
<path d="M348.2,454.5 L408.5,490.3 L408.5,558.8" stroke="#222" stroke-width="0.9" fill="none" />
<path d="M344.7,517.6 L348.2,520.2 L411.6,557.6" stroke="#222" stroke-width="1.12" fill="none" />
<path d="M381.7,407.8 L427.1,432.8 L402.8,477.6" stroke="#222" stroke-width="1.01" fill="none" />
<path d="M381.7,407.8 L359.4,452.5" stroke="#222" stroke-width="1.01" fill="none" />
<path d="M383.2,409.5 L361.5,453.5" stroke="#222" stroke-width="0.78" fill="none" />
<path d="M368.9,404.5 L353,433.5 Q351.6,436 351.5,439 L351.3,450.5" stroke="#222" stroke-width="1.12" fill="none" />
<path d="M374.5,402 L357.8,433.8 Q356.3,436.5 356.2,439.5 L355.8,452.8" stroke="#222" stroke-width="1.01" fill="none" />
<path d="M381,406.8 L364.5,437.5 Q363,440 362.8,443 L362.2,454" stroke="#222" stroke-width="1.01" fill="none" />
<path d="M352.5,435.5 L357.5,437.8 L363.8,439.0" stroke="#222" stroke-width="0.78" fill="none" />
<path d="M368.9,404.5 L372.5,400.5 L377.5,401.5 L381.0,406.8" stroke="#222" stroke-width="1.01" fill="none" />
<path d="M441,437.5 L418.5,469.5 Q417.3,471.5 417.3,474 L417.3,484" stroke="#222" stroke-width="1.01" fill="none" />
<path d="M436,435.2 L412.9,466.2 Q411.6,468.3 411.5,471 L411.4,481.6" stroke="#222" stroke-width="1.23" fill="none" />
<path d="M427.5,432.2 L407.8,463.2 Q406.2,465.8 406.1,468.6 L406.1,478.2" stroke="#222" stroke-width="1.23" fill="none" />
<path d="M406.3,467.0 L411.6,469.6 L417.3,472.0" stroke="#222" stroke-width="0.78" fill="none" />
<path d="M427.5,432.2 L430.5,430.8 L436.0,435.2" stroke="#222" stroke-width="1.01" fill="none" />
<ellipse cx="372.7" cy="435.8" rx="2.1" ry="2.5" transform="rotate(25 372.7 435.8)" stroke="#222" stroke-width="0.8" fill="#fff"/>
<ellipse cx="382.4" cy="449.8" rx="2.1" ry="2.5" transform="rotate(25 382.4 449.8)" stroke="#222" stroke-width="0.8" fill="#fff"/>
<ellipse cx="398.4" cy="458.9" rx="2.1" ry="2.5" transform="rotate(25 398.4 458.9)" stroke="#222" stroke-width="0.8" fill="#fff"/>
<ellipse cx="408.2" cy="438.7" rx="1.3" ry="1.3" transform="rotate(0 408.2 438.7)" stroke="#111" stroke-width="0.5" fill="#222"/>
<ellipse cx="405.5" cy="444.4" rx="1.3" ry="1.3" transform="rotate(0 405.5 444.4)" stroke="#111" stroke-width="0.5" fill="#222"/>
<ellipse cx="381.7" cy="408.0" rx="1.6" ry="1.6" transform="rotate(0 381.7 408.0)" stroke="#111" stroke-width="0.5" fill="#222"/>
<ellipse cx="426.3" cy="433.0" rx="1.7" ry="1.7" transform="rotate(0 426.3 433.0)" stroke="#111" stroke-width="0.5" fill="#222"/>
<ellipse cx="359.8" cy="452.3" rx="1.5" ry="1.5" transform="rotate(0 359.8 452.3)" stroke="#111" stroke-width="0.5" fill="#222"/>
<ellipse cx="402.8" cy="477.2" rx="1.5" ry="1.5" transform="rotate(0 402.8 477.2)" stroke="#111" stroke-width="0.5" fill="#222"/>
<ellipse cx="385.5" cy="398.0" rx="1.7" ry="1.2" transform="rotate(0 385.5 398.0)" stroke="#222" stroke-width="0.6" fill="#bbb"/>
<ellipse cx="433.8" cy="426.5" rx="1.7" ry="1.2" transform="rotate(0 433.8 426.5)" stroke="#222" stroke-width="0.6" fill="#bbb"/>
<ellipse cx="401.3" cy="396.8" rx="0.6" ry="0.5" transform="rotate(0 401.3 396.8)" stroke="#111" stroke-width="0.4" fill="#111"/>
<ellipse cx="445.5" cy="422.2" rx="0.6" ry="0.5" transform="rotate(0 445.5 422.2)" stroke="#111" stroke-width="0.4" fill="#111"/>
<ellipse cx="432.0" cy="457.0" rx="1.0" ry="1.6" transform="rotate(15 432.0 457.0)" stroke="#222" stroke-width="0.6" fill="#bbb"/>
<ellipse cx="428.5" cy="485.9" rx="0.6" ry="0.6" transform="rotate(0 428.5 485.9)" stroke="#111" stroke-width="0.4" fill="#111"/>
<ellipse cx="415.2" cy="494.7" rx="1.0" ry="1.5" transform="rotate(10 415.2 494.7)" stroke="#222" stroke-width="0.6" fill="#bbb"/>
<ellipse cx="415.2" cy="546.7" rx="1.0" ry="1.5" transform="rotate(10 415.2 546.7)" stroke="#222" stroke-width="0.6" fill="#bbb"/>
<defs><pattern id="mesh" width="2.2" height="2.2" patternUnits="userSpaceOnUse" patternTransform="skewY(30)"><rect width="2.2" height="2.2" fill="#151515"/><circle cx="1.1" cy="1.1" r="0.47" fill="#fff"/></pattern></defs>
<path d="M351.8,460.3 L407.3,492.3 L407.3,550.2 L350.9,516.7 Z" stroke="#111" stroke-width="0.9" fill="url(#mesh)" />
<ellipse cx="361.5" cy="502.6" rx="8.3" ry="11.3" transform="rotate(-18 361.5 502.6)" stroke="#111" stroke-width="1.0" fill="#fff"/>
<ellipse cx="361.9" cy="502.8" rx="6.6" ry="9.6" transform="rotate(-18 361.9 502.8)" stroke="#222" stroke-width="0.8" fill="#fff"/>
<path d="M361.2,494.5 L361.2,511.5" stroke="#222" stroke-width="0.9" fill="none" />
<ellipse cx="397.1" cy="525.2" rx="6.3" ry="8.2" transform="rotate(-18 397.1 525.2)" stroke="#111" stroke-width="1.0" fill="#fff"/>
<ellipse cx="397.4" cy="525.4" rx="4.9" ry="6.8" transform="rotate(-18 397.4 525.4)" stroke="#222" stroke-width="0.8" fill="#fff"/>
<ellipse cx="351.6" cy="459.5" rx="1.4" ry="1.4" transform="rotate(0 351.6 459.5)" stroke="#111" stroke-width="0.5" fill="#222"/>
<ellipse cx="407.5" cy="492.8" rx="1.4" ry="1.4" transform="rotate(0 407.5 492.8)" stroke="#111" stroke-width="0.5" fill="#222"/>
<ellipse cx="406.5" cy="549.5" rx="1.4" ry="1.4" transform="rotate(0 406.5 549.5)" stroke="#111" stroke-width="0.5" fill="#222"/>
<ellipse cx="351.0" cy="515.8" rx="1.4" ry="1.4" transform="rotate(0 351.0 515.8)" stroke="#111" stroke-width="0.5" fill="#222"/>
<ellipse cx="354.0" cy="521.5" rx="0.8" ry="1.1" transform="rotate(0 354.0 521.5)" stroke="#111" stroke-width="0.5" fill="#333"/>
</g>
<g id="p_feeder">
<path d="M519.9,267.6 L518.4,270.5 L515.7,271.6 L514.0,273.6 L512.7,277.5 L510.6,279.1 L508.6,277.8 L506.7,278.4 L504.3,281.2 L502.4,280.9 L501.8,277.7 L500.5,276.6 L497.9,277.2 L497.0,275.1 L498.0,271.2 L497.8,268.9 L496.0,267.1 L496.4,264.1 L498.7,261.0 L499.5,258.3 L499.3,254.8 L500.8,251.9 L503.5,250.8 L505.2,248.8 L506.5,244.9 L508.6,243.3 L510.6,244.6 L512.5,244.0 L514.9,241.2 L516.8,241.5 L517.4,244.7 L518.7,245.8 L521.3,245.2 L522.2,247.3 L521.2,251.2 L521.4,253.5 L523.2,255.3 L522.8,258.3 L520.5,261.4 L519.7,264.1 Z" stroke="#111" stroke-width="1.34" fill="#fff" />
<path d="M519.9,267.6 L523.5,266.2" stroke="#111" stroke-width="0.9" fill="none" />
<path d="M518.4,270.5 L522.0,269.1" stroke="#111" stroke-width="0.9" fill="none" />
<path d="M515.7,271.6 L519.3,270.2" stroke="#111" stroke-width="0.9" fill="none" />
<path d="M514.0,273.6 L517.6,272.2" stroke="#111" stroke-width="0.9" fill="none" />
<path d="M512.7,277.5 L516.3,276.1" stroke="#111" stroke-width="0.9" fill="none" />
<path d="M510.6,279.1 L514.2,277.7" stroke="#111" stroke-width="0.9" fill="none" />
<path d="M508.6,277.8 L512.2,276.4" stroke="#111" stroke-width="0.9" fill="none" />
<path d="M506.7,278.4 L510.3,277.0" stroke="#111" stroke-width="0.9" fill="none" />
<path d="M504.3,281.2 L507.9,279.8" stroke="#111" stroke-width="0.9" fill="none" />
<path d="M502.4,280.9 L506.0,279.5" stroke="#111" stroke-width="0.9" fill="none" />
<path d="M501.8,277.7 L505.4,276.3" stroke="#111" stroke-width="0.9" fill="none" />
<path d="M500.5,276.6 L504.1,275.2" stroke="#111" stroke-width="0.9" fill="none" />
<path d="M497.9,277.2 L501.5,275.8" stroke="#111" stroke-width="0.9" fill="none" />
<path d="M497.0,275.1 L500.6,273.7" stroke="#111" stroke-width="0.9" fill="none" />
<path d="M498.0,271.2 L501.6,269.8" stroke="#111" stroke-width="0.9" fill="none" />
<path d="M497.8,268.9 L501.4,267.5" stroke="#111" stroke-width="0.9" fill="none" />
<path d="M496.0,267.1 L499.6,265.7" stroke="#111" stroke-width="0.9" fill="none" />
<path d="M496.4,264.1 L500.0,262.7" stroke="#111" stroke-width="0.9" fill="none" />
<path d="M498.7,261.0 L502.3,259.6" stroke="#111" stroke-width="0.9" fill="none" />
<path d="M499.5,258.3 L503.1,256.9" stroke="#111" stroke-width="0.9" fill="none" />
<path d="M499.3,254.8 L502.9,253.4" stroke="#111" stroke-width="0.9" fill="none" />
<path d="M500.8,251.9 L504.4,250.5" stroke="#111" stroke-width="0.9" fill="none" />
<path d="M503.5,250.8 L507.1,249.4" stroke="#111" stroke-width="0.9" fill="none" />
<path d="M505.2,248.8 L508.8,247.4" stroke="#111" stroke-width="0.9" fill="none" />
<path d="M506.5,244.9 L510.1,243.5" stroke="#111" stroke-width="0.9" fill="none" />
<path d="M508.6,243.3 L512.2,241.9" stroke="#111" stroke-width="0.9" fill="none" />
<path d="M510.6,244.6 L514.2,243.2" stroke="#111" stroke-width="0.9" fill="none" />
<path d="M512.5,244.0 L516.1,242.6" stroke="#111" stroke-width="0.9" fill="none" />
<path d="M514.9,241.2 L518.5,239.8" stroke="#111" stroke-width="0.9" fill="none" />
<path d="M516.8,241.5 L520.4,240.1" stroke="#111" stroke-width="0.9" fill="none" />
<path d="M517.4,244.7 L521.0,243.3" stroke="#111" stroke-width="0.9" fill="none" />
<path d="M518.7,245.8 L522.3,244.4" stroke="#111" stroke-width="0.9" fill="none" />
<path d="M521.3,245.2 L524.9,243.8" stroke="#111" stroke-width="0.9" fill="none" />
<path d="M522.2,247.3 L525.8,245.9" stroke="#111" stroke-width="0.9" fill="none" />
<path d="M521.2,251.2 L524.8,249.8" stroke="#111" stroke-width="0.9" fill="none" />
<path d="M521.4,253.5 L525.0,252.1" stroke="#111" stroke-width="0.9" fill="none" />
<path d="M523.2,255.3 L526.8,253.9" stroke="#111" stroke-width="0.9" fill="none" />
<path d="M522.8,258.3 L526.4,256.9" stroke="#111" stroke-width="0.9" fill="none" />
<path d="M520.5,261.4 L524.1,260.0" stroke="#111" stroke-width="0.9" fill="none" />
<path d="M519.7,264.1 L523.3,262.7" stroke="#111" stroke-width="0.9" fill="none" />
<path d="M523.5,266.2 L522.0,269.1 L519.3,270.2 L517.6,272.2 L516.3,276.1 L514.2,277.7 L512.2,276.4 L510.3,277.0 L507.9,279.8 L506.0,279.5 L505.4,276.3 L504.1,275.2 L501.5,275.8 L500.6,273.7 L501.6,269.8 L501.4,267.5 L499.6,265.7 L500.0,262.7 L502.3,259.6 L503.1,256.9 L502.9,253.4 L504.4,250.5 L507.1,249.4 L508.8,247.4 L510.1,243.5 L512.2,241.9 L514.2,243.2 L516.1,242.6 L518.5,239.8 L520.4,240.1 L521.0,243.3 L522.3,244.4 L524.9,243.8 L525.8,245.9 L524.8,249.8 L525.0,252.1 L526.8,253.9 L526.4,256.9 L524.1,260.0 L523.3,262.7 Z" stroke="#111" stroke-width="1.34" fill="#fff" />
<ellipse cx="514.8" cy="260.0" rx="8.6" ry="16.6" transform="rotate(22 514.8 260.0)" stroke="#111" stroke-width="1.0" fill="#fff"/>
<ellipse cx="515.8" cy="260.2" rx="7.6" ry="15.0" transform="rotate(22 515.8 260.2)" stroke="#111" stroke-width="2.0" fill="#fff"/>
<ellipse cx="517.2" cy="260.7" rx="6.6" ry="13.4" transform="rotate(22 517.2 260.7)" stroke="#111" stroke-width="0.9" fill="#fff"/>
<path d="M521.5,253.0 L541.0,263.2 L528.0,283.8 L513.5,274.5 L523.0,262.0 Z" stroke="#fff" stroke-width="0.11" fill="#fff" />
<path d="M521.5,253.6 L541.0,263.2" stroke="#222" stroke-width="1.12" fill="none" />
<path d="M513.0,274.3 L528.0,283.8" stroke="#222" stroke-width="1.12" fill="none" />
<ellipse cx="534.6" cy="273.6" rx="8.6" ry="12.3" transform="rotate(22 534.6 273.6)" stroke="#111" stroke-width="1.3" fill="#fff"/>
<ellipse cx="535.2" cy="274.0" rx="7.2" ry="10.8" transform="rotate(22 535.2 274.0)" stroke="#111" stroke-width="0.9" fill="#fff"/>
<ellipse cx="536.3" cy="274.6" rx="5.6" ry="9.2" transform="rotate(22 536.3 274.6)" stroke="#111" stroke-width="0.9" fill="#fff"/>
<path d="M528.6,282.6 L536.1,293.2 L540.6,282.4" stroke="#111" stroke-width="1.23" fill="#fff" />
<path d="M531.5,284.5 L535.9,290.3 L538.2,284.2" stroke="#222" stroke-width="0.9" fill="none" />
<ellipse cx="537.5" cy="283.0" rx="1.0" ry="1.0" transform="rotate(0 537.5 283.0)" stroke="#111" stroke-width="0.7" fill="#555"/>
<ellipse cx="537.5" cy="270.3" rx="0.8" ry="0.8" transform="rotate(0 537.5 270.3)" stroke="#111" stroke-width="0.6" fill="#555"/>
<path d="M496.3,331.1 L507.6,324.1 L533.1,339.3 L533.1,351.7 L529.9,358.2" stroke="#222" stroke-width="1.12" fill="none" />
<path d="M496.3,331.1 L523.4,345.2 L533.1,339.3" stroke="#222" stroke-width="1.01" fill="none" />
<path d="M523.4,345.2 L533.1,351.7" stroke="#222" stroke-width="0.9" fill="none" />
<path d="M503.3,336.5 L530.5,352.5" stroke="#222" stroke-width="0.9" fill="none" />
<path d="M533.5,340.0 L536.5,338.5 L538.2,344.0 L536.0,349.0 L533.3,350.0" stroke="#222" stroke-width="0.9" fill="none" />
<ellipse cx="536.4" cy="344.9" rx="1.0" ry="1.4" transform="rotate(0 536.4 344.9)" stroke="#111" stroke-width="0.6" fill="#fff"/>
<path d="M498.5,330.0 L498.5,338.5" stroke="#222" stroke-width="0.78" fill="none" />
<path d="M503.5,335.2 L503.5,342.5 L506.5,344.0 L506.5,337.0" stroke="#222" stroke-width="0.78" fill="none" />
<ellipse cx="513.5" cy="333.2" rx="1.4" ry="1.0" transform="rotate(20 513.5 333.2)" stroke="#111" stroke-width="0.6" fill="#fff"/>
<path d="M493.6,337.3 L470.3,381.5 L472.5,383.0" stroke="#222" stroke-width="1.01" fill="none" />
<path d="M497.5,339.8 Q495.9,339.2 495.2,340.8 L472.5,382.2 Q472,383.6 473.4,384.4 L521.5,412.6 Q523.1,413.2 523.9,411.8 L546.5,370.2 Q547,368.8 545.6,368 Z" stroke="#222" stroke-width="1.12" fill="#fff" />
<ellipse cx="498.3" cy="343.5" rx="1.0" ry="1.0" transform="rotate(0 498.3 343.5)" stroke="#111" stroke-width="0.6" fill="#fff"/>
<ellipse cx="541.5" cy="369.0" rx="1.0" ry="1.0" transform="rotate(0 541.5 369.0)" stroke="#111" stroke-width="0.6" fill="#fff"/>
<ellipse cx="523.3" cy="408.5" rx="1.0" ry="1.0" transform="rotate(0 523.3 408.5)" stroke="#111" stroke-width="0.6" fill="#fff"/>
<ellipse cx="477.3" cy="382.2" rx="1.0" ry="1.0" transform="rotate(0 477.3 382.2)" stroke="#111" stroke-width="0.6" fill="#fff"/>
<ellipse cx="500.0" cy="347.0" rx="0.6" ry="0.6" transform="rotate(0 500.0 347.0)" stroke="#111" stroke-width="0.6" fill="#fff"/>
<ellipse cx="487.3" cy="372.0" rx="1.9" ry="2.4" transform="rotate(25 487.3 372.0)" stroke="#222" stroke-width="0.8" fill="#fff"/>
<ellipse cx="497.5" cy="385.5" rx="1.9" ry="2.4" transform="rotate(25 497.5 385.5)" stroke="#222" stroke-width="0.8" fill="#fff"/>
<ellipse cx="513.3" cy="394.6" rx="1.9" ry="2.4" transform="rotate(25 513.3 394.6)" stroke="#222" stroke-width="0.8" fill="#fff"/>
<ellipse cx="523.2" cy="374.5" rx="0.8" ry="0.8" transform="rotate(0 523.2 374.5)" stroke="#111" stroke-width="0.4" fill="#111"/>
<ellipse cx="520.5" cy="380.2" rx="0.8" ry="0.8" transform="rotate(0 520.5 380.2)" stroke="#111" stroke-width="0.4" fill="#111"/>
<path d="M478.4,388.8 L506.5,405.0 L506.5,408.5 L509.0,410.5" stroke="#222" stroke-width="1.01" fill="none" />
<path d="M480.0,392.5 L480.0,396.0 L505.0,409.0" stroke="#222" stroke-width="0.9" fill="none" />
<path d="M476.5,388.0 L476.5,392.0 L480.0,394.0" stroke="#222" stroke-width="0.9" fill="none" />
<path d="M473.0,386.0 L473.0,390.5" stroke="#222" stroke-width="0.78" fill="none" />
<path d="M506.5,405.0 L509.5,406.5 L509.5,417.0" stroke="#222" stroke-width="0.9" fill="none" />
<path d="M511.5,408.0 L511.5,418.0" stroke="#222" stroke-width="0.78" fill="none" />
<path d="M468.5,346.6 L485.0,354.2" stroke="#222" stroke-width="1.12" fill="none" />
<path d="M464.3,365.8 L476.0,371.2" stroke="#222" stroke-width="1.12" fill="none" />
<path d="M468.5,346.6 Q462.5,348.5 462.3,357 Q462.5,364 464.3,365.8" stroke="#222" stroke-width="1.12" fill="none" />
<path d="M470.5,347.6 Q465,350 464.8,358 Q465,364.5 466.5,366.8" stroke="#222" stroke-width="0.78" fill="none" />
<path d="M442.1,345.6 L442.1,366.0 L455.1,372.0 L455.1,349.7" stroke="#222" stroke-width="1.12" fill="none" />
<path d="M448.2,347.8 L448.2,369.0" stroke="#222" stroke-width="0.9" fill="none" />
<path d="M446.6,347.0 L446.6,368.2" stroke="#222" stroke-width="0.56" fill="none" />
<path d="M442.6,364.0 L455.1,370.0" stroke="#222" stroke-width="0.67" fill="none" />
<path d="M455.1,372.0 L463.5,367.3" stroke="#222" stroke-width="1.12" fill="none" />
<path d="M455.1,349.7 L461.5,346.3" stroke="#222" stroke-width="1.12" fill="none" />
<path d="M471.5,341.0 L480.3,336.3 L480.3,351.8" stroke="#222" stroke-width="1.12" fill="none" />
<path d="M459.5,346.5 Q463,340.5 470,339.5 L476,336.5" stroke="#222" stroke-width="1.01" fill="none" />
<path d="M442.1,345.6 L455.1,351.5" stroke="#222" stroke-width="0.9" fill="none" />
<path d="M470.0,335.5 L476.0,332.5 L480.3,336.3" stroke="#222" stroke-width="1.01" fill="none" />
<path d="M470.0,335.5 L474.5,338.5 L480.3,336.3" stroke="#222" stroke-width="0.78" fill="none" />
<path d="M440.5,338.5 L442.5,334.5 L447.0,332.0 L450.0,333.5 L450.0,343.0" stroke="#222" stroke-width="1.25" fill="none" />
<path d="M440.5,338.5 L440.5,345.5 L443.5,347.5 L443.5,341.0" stroke="#222" stroke-width="1.25" fill="none" />
<path d="M444.8,336.0 L444.8,347.5 L447.5,349.0" stroke="#222" stroke-width="1.12" fill="none" />
<path d="M450.0,333.5 L463.0,326.5 L467.0,328.5" stroke="#222" stroke-width="1.25" fill="none" />
<path d="M447.0,332.0 L459.0,325.5 L463.0,326.5" stroke="#222" stroke-width="1.12" fill="none" />
<path d="M451.5,337.0 L451.5,345.5 L455.0,347.5" stroke="#222" stroke-width="1.12" fill="none" />
<path d="M455.5,339.0 L470.0,331.0 L476.5,334.5 L462.0,343.0 L455.5,339.0" stroke="#222" stroke-width="1.25" fill="none" />
<path d="M458.0,344.5 L472.5,336.5" stroke="#222" stroke-width="1.12" fill="none" />
<ellipse cx="458.5" cy="331.5" rx="3.6" ry="4.6" transform="rotate(0 458.5 331.5)" stroke="#111" stroke-width="1.0" fill="#fff"/>
<path d="M455.5,334 Q455,328 459.5,327" stroke="#222" stroke-width="1.12" fill="none" />
<ellipse cx="461.3" cy="336.3" rx="2.2" ry="2.8" transform="rotate(0 461.3 336.3)" stroke="#111" stroke-width="1.2" fill="#fff"/>
<ellipse cx="454.0" cy="338.0" rx="1.6" ry="2.0" transform="rotate(0 454.0 338.0)" stroke="#111" stroke-width="1.2" fill="#555"/>
<ellipse cx="465.5" cy="330.0" rx="2.0" ry="2.6" transform="rotate(0 465.5 330.0)" stroke="#111" stroke-width="0.9" fill="#fff"/>
<path d="M462.5,330.5 Q466,324 472.5,323 L477.5,325.5 Q479,328 477,330.5 L469.5,335 Q465,337.5 462.5,335 Z" stroke="#111" stroke-width="1.4" fill="#fff" />
<path d="M466,333 Q468,327.5 474,325.5" stroke="#222" stroke-width="0.99" fill="none" />
<ellipse cx="474.8" cy="328.8" rx="1.1" ry="1.3" transform="rotate(0 474.8 328.8)" stroke="#111" stroke-width="0.7" fill="#fff"/>
<path d="M459.5,323.5 L463.5,321.5 L471.0,325.3" stroke="#222" stroke-width="1.25" fill="none" />
<path d="M459.5,323.5 L459.5,327.0" stroke="#222" stroke-width="1.12" fill="none" />
<path d="M462.5,316.5 L462.5,320.3 L466.8,322.8 L471.2,320.3 L471.2,316.5" stroke="#111" stroke-width="1.01" fill="#fff" />
<path d="M461.3,303.6 L461.3,315.2" stroke="#222" stroke-width="1.12" fill="none" />
<path d="M472.4,303.6 L472.4,315.2" stroke="#222" stroke-width="1.12" fill="none" />
<path d="M461.3,303.6 L461.3,315.2 Q466.8,319 472.4,315.2 L472.4,303.6 Z" stroke="#111" stroke-width="1.01" fill="#3c3c3c" />
<path d="M462.9,306.0 L462.9,316.5" stroke="#ddd" stroke-width="0.67" fill="none" />
<path d="M464.5,306.0 L464.5,316.5" stroke="#ddd" stroke-width="0.67" fill="none" />
<path d="M466.0,306.0 L466.0,316.5" stroke="#ddd" stroke-width="0.67" fill="none" />
<path d="M467.6,306.0 L467.6,316.5" stroke="#ddd" stroke-width="0.67" fill="none" />
<path d="M469.2,306.0 L469.2,316.5" stroke="#ddd" stroke-width="0.67" fill="none" />
<path d="M470.8,306.0 L470.8,316.5" stroke="#ddd" stroke-width="0.67" fill="none" />
<ellipse cx="466.9" cy="303.5" rx="5.55" ry="2.9" transform="rotate(0 466.9 303.5)" stroke="#111" stroke-width="1.0" fill="#fff"/>
<ellipse cx="466.9" cy="303.3" rx="3.4" ry="1.7" transform="rotate(0 466.9 303.3)" stroke="#333" stroke-width="0.6" fill="#fff"/>
<ellipse cx="466.9" cy="303.3" rx="1.0" ry="0.6" transform="rotate(0 466.9 303.3)" stroke="#333" stroke-width="0.5" fill="#888"/>
<path d="M477.5,327.0 L485.5,322.8" stroke="#111" stroke-width="2.69" fill="none" />
<path d="M495.6,323.6 L492.3,328.3 L487.3,327.2 L485.6,321.4 L488.9,316.7 L493.9,317.8 Z" stroke="#111" stroke-width="1.23" fill="#fff" />
<path d="M488.7,330.1 L483.7,329.0 L482.0,323.2 L485.3,318.5" stroke="#111" stroke-width="1.23" fill="none" />
<path d="M492.3,328.3 L488.7,330.1" stroke="#111" stroke-width="1.01" fill="none" />
<path d="M487.3,327.2 L483.7,329.0" stroke="#111" stroke-width="1.01" fill="none" />
<path d="M485.6,321.4 L482.0,323.2" stroke="#111" stroke-width="1.01" fill="none" />
<path d="M488.9,316.7 L485.3,318.5" stroke="#111" stroke-width="1.01" fill="none" />
<path d="M491.0,337.9 L488.4,341.7 L484.4,340.8 L483.0,336.1 L485.6,332.3 L489.6,333.2 Z" stroke="#111" stroke-width="1.23" fill="#fff" />
<path d="M484.8,343.5 L480.8,342.6 L479.4,337.9 L482.0,334.1" stroke="#111" stroke-width="1.23" fill="none" />
<path d="M488.4,341.7 L484.8,343.5" stroke="#111" stroke-width="1.01" fill="none" />
<path d="M484.4,340.8 L480.8,342.6" stroke="#111" stroke-width="1.01" fill="none" />
<path d="M483.0,336.1 L479.4,337.9" stroke="#111" stroke-width="1.01" fill="none" />
<path d="M485.6,332.3 L482.0,334.1" stroke="#111" stroke-width="1.01" fill="none" />
<ellipse cx="491.2" cy="322.5" rx="3.4" ry="4.0" transform="rotate(0 491.2 322.5)" stroke="#111" stroke-width="1.6" fill="#fff"/>
<ellipse cx="491.5" cy="322.6" rx="1.5" ry="1.9" transform="rotate(0 491.5 322.6)" stroke="#111" stroke-width="0.8" fill="#666"/>
<ellipse cx="487.4" cy="337.0" rx="2.6" ry="3.2" transform="rotate(0 487.4 337.0)" stroke="#111" stroke-width="1.0" fill="#fff"/>
</g>
<g id="p_cables">
<path d="M246,567.5 C236,573 226,586 216,594 C204,603 186,603 167.6,607.3 C150,612 138,626 121,641.5" stroke="#222" stroke-width="8.51" fill="none" />
<path d="M246,567.5 C236,573 226,586 216,594 C204,603 186,603 167.6,607.3 C150,612 138,626 121,641.5" stroke="#fff" stroke-width="6.5" fill="none" />
<path d="M247.6,571.2 L283.1,552.9 L278.9,545.1 L244.4,565.4 Z" stroke="#111" stroke-width="1.01" fill="#1c1c1c" />
<ellipse cx="249.3" cy="566.5" rx="0.8" ry="2.303125" transform="rotate(-29 249.3 566.5)" stroke="#fff" stroke-width="0.3" fill="#fff"/>
<ellipse cx="252.9" cy="564.5" rx="0.8" ry="2.4177083333333336" transform="rotate(-29 252.9 564.5)" stroke="#fff" stroke-width="0.3" fill="#fff"/>
<ellipse cx="256.6" cy="562.5" rx="0.8" ry="2.5322916666666666" transform="rotate(-29 256.6 562.5)" stroke="#fff" stroke-width="0.3" fill="#fff"/>
<ellipse cx="260.2" cy="560.5" rx="0.8" ry="2.646875" transform="rotate(-29 260.2 560.5)" stroke="#fff" stroke-width="0.3" fill="#fff"/>
<ellipse cx="263.9" cy="558.4" rx="0.8" ry="2.7614583333333336" transform="rotate(-29 263.9 558.4)" stroke="#fff" stroke-width="0.3" fill="#fff"/>
<ellipse cx="267.5" cy="556.4" rx="0.8" ry="2.8760416666666666" transform="rotate(-29 267.5 556.4)" stroke="#fff" stroke-width="0.3" fill="#fff"/>
<ellipse cx="271.2" cy="554.4" rx="0.8" ry="2.990625" transform="rotate(-29 271.2 554.4)" stroke="#fff" stroke-width="0.3" fill="#fff"/>
<ellipse cx="274.8" cy="552.4" rx="0.8" ry="3.1052083333333336" transform="rotate(-29 274.8 552.4)" stroke="#fff" stroke-width="0.3" fill="#fff"/>
<ellipse cx="278.4" cy="550.4" rx="0.8" ry="3.2197916666666666" transform="rotate(-29 278.4 550.4)" stroke="#fff" stroke-width="0.3" fill="#fff"/>
<path d="M246.2,572.6 L249.5,570.8 L245.7,564.0 L242.4,565.8 Z" stroke="#111" stroke-width="1.01" fill="#fff" />
<path d="M247.5,571.9 L249.5,570.8 L245.7,564.0 L243.7,565.1 Z" stroke="#111" stroke-width="0.67" fill="#222" />
<path d="M290.1,551.7 L325.1,532.8 L317.9,519.6 L282.9,538.5 Z" stroke="#111" stroke-width="1.01" fill="#2e2e2e" />
<path d="M288.9,539.5 L298.0,534.6" stroke="#f4f4f4" stroke-width="3.36" fill="none" stroke-linecap="butt"/>
<path d="M288.9,539.7 L298.0,534.8" stroke="#555" stroke-width="0.56" fill="none" stroke-linecap="butt"/>
<path d="M299.4,533.8 L308.5,528.9" stroke="#f4f4f4" stroke-width="3.36" fill="none" stroke-linecap="butt"/>
<path d="M299.4,534.0 L308.5,529.1" stroke="#555" stroke-width="0.56" fill="none" stroke-linecap="butt"/>
<path d="M309.9,528.1 L317.9,523.8" stroke="#f4f4f4" stroke-width="3.36" fill="none" stroke-linecap="butt"/>
<path d="M309.9,528.3 L317.9,524.0" stroke="#555" stroke-width="0.56" fill="none" stroke-linecap="butt"/>
<path d="M291.2,543.7 L300.3,538.8" stroke="#f4f4f4" stroke-width="3.36" fill="none" stroke-linecap="butt"/>
<path d="M291.2,543.9 L300.3,539.0" stroke="#555" stroke-width="0.56" fill="none" stroke-linecap="butt"/>
<path d="M301.7,538.0 L310.8,533.1" stroke="#f4f4f4" stroke-width="3.36" fill="none" stroke-linecap="butt"/>
<path d="M301.7,538.2 L310.8,533.3" stroke="#555" stroke-width="0.56" fill="none" stroke-linecap="butt"/>
<path d="M312.2,532.4 L320.2,528.0" stroke="#f4f4f4" stroke-width="3.36" fill="none" stroke-linecap="butt"/>
<path d="M312.2,532.6 L320.2,528.2" stroke="#555" stroke-width="0.56" fill="none" stroke-linecap="butt"/>
<path d="M293.4,547.8 L302.5,542.8" stroke="#f4f4f4" stroke-width="3.36" fill="none" stroke-linecap="butt"/>
<path d="M293.4,548.0 L302.5,543.0" stroke="#555" stroke-width="0.56" fill="none" stroke-linecap="butt"/>
<path d="M303.9,542.1 L313.0,537.2" stroke="#f4f4f4" stroke-width="3.36" fill="none" stroke-linecap="butt"/>
<path d="M303.9,542.3 L313.0,537.4" stroke="#555" stroke-width="0.56" fill="none" stroke-linecap="butt"/>
<path d="M314.4,536.4 L322.4,532.1" stroke="#f4f4f4" stroke-width="3.36" fill="none" stroke-linecap="butt"/>
<path d="M314.4,536.6 L322.4,532.3" stroke="#555" stroke-width="0.56" fill="none" stroke-linecap="butt"/>
<ellipse cx="282.6" cy="547.0" rx="5.2" ry="9.0" transform="rotate(-29 282.6 547.0)" stroke="#111" stroke-width="1.0" fill="#1e1e1e"/>
<ellipse cx="285.0" cy="545.7" rx="5.2" ry="9.0" transform="rotate(-29 285.0 545.7)" stroke="#111" stroke-width="1.0" fill="#2a2a2a"/>
<path d="M281.5,539.5 Q278.5,546 283,554" stroke="#999" stroke-width="0.67" fill="none" />
<ellipse cx="286.8" cy="544.8" rx="3.6" ry="6.8" transform="rotate(-29 286.8 544.8)" stroke="#888" stroke-width="0.7" fill="none"/>
<path d="M324.7,534.5 L337.7,527.4 L329.3,512.0 L316.3,519.1 Z" stroke="#111" stroke-width="1.12" fill="#333" />
<ellipse cx="320.5" cy="526.8" rx="5.0" ry="8.8" transform="rotate(-29 320.5 526.8)" stroke="#111" stroke-width="1.0" fill="#333"/>
<ellipse cx="333.5" cy="519.7" rx="5.0" ry="8.8" transform="rotate(-29 333.5 519.7)" stroke="#111" stroke-width="1.0" fill="#fff"/>
<ellipse cx="334.4" cy="519.2" rx="3.8" ry="7.0" transform="rotate(-29 334.4 519.2)" stroke="#111" stroke-width="0.8" fill="#fff"/>
<path d="M317.4,518.8 Q326.0,526.7 325.6,533.6" stroke="#aaa" stroke-width="0.56" fill="none" />
<path d="M319.1,517.9 Q327.7,525.8 327.3,532.7" stroke="#aaa" stroke-width="0.56" fill="none" />
<path d="M320.7,517.0 Q329.3,524.9 328.9,531.8" stroke="#aaa" stroke-width="0.56" fill="none" />
<path d="M322.4,516.1 Q331.0,524.0 330.6,530.9" stroke="#aaa" stroke-width="0.56" fill="none" />
<path d="M324.1,515.2 Q332.7,523.1 332.3,530.0" stroke="#aaa" stroke-width="0.56" fill="none" />
<path d="M325.7,514.3 Q334.3,522.2 333.9,529.1" stroke="#aaa" stroke-width="0.56" fill="none" />
<path d="M327.4,513.4 Q336.0,521.3 335.6,528.2" stroke="#aaa" stroke-width="0.56" fill="none" />
<path d="M338.3,519.4 L341.8,517.1 L340.2,514.1 L336.3,515.8 Z" stroke="#111" stroke-width="0.9" fill="#fff" />
<ellipse cx="318.2" cy="530.2" rx="1.0" ry="1.0" transform="rotate(0 318.2 530.2)" stroke="#111" stroke-width="0.6" fill="#111"/>
<path d="M296.0,579.3 L343.3,551.3" stroke="#222" stroke-width="1.01" fill="none" />
<path d="M297.8,582.6 L345.1,554.6" stroke="#222" stroke-width="1.01" fill="none" />
<path d="M344.7,555.2 L353.1,551.5 L349.9,545.7 L342.3,550.6 Z" stroke="#111" stroke-width="1.01" fill="#fff" />
<path d="M343.8,549.1 L346.4,554.9" stroke="#111" stroke-width="0.9" fill="none" />
<path d="M345.4,548.3 L348.0,554.1" stroke="#111" stroke-width="0.9" fill="none" />
<path d="M347.0,547.4 L349.6,553.2" stroke="#111" stroke-width="0.9" fill="none" />
<path d="M348.6,546.6 L351.2,552.4" stroke="#111" stroke-width="0.9" fill="none" />
<path d="M353.2,551.9 L368.1,543.9 L364.9,537.7 L349.8,545.3 Z" stroke="#111" stroke-width="1.01" fill="#fff" />
<path d="M366.5,537.5 Q372.5,536.5 371.5,540.5 Q370.5,543.5 366.8,544.3" stroke="#111" stroke-width="1.01" fill="#fff" />
<path d="M356.0,543.2 L359.0,549.4" stroke="#222" stroke-width="0.9" fill="none" />
<path d="M357.8,546.2 L367.5,541.1" stroke="#222" stroke-width="0.78" fill="none" />
<path d="M360.5,541.2 L363.2,546.8" stroke="#222" stroke-width="0.78" fill="none" />
<ellipse cx="371.8" cy="539.3" rx="1.0" ry="1.5" transform="rotate(0 371.8 539.3)" stroke="#111" stroke-width="0.7" fill="#fff"/>
<path d="M253,616.5 L270,603.5 Q274,598.5 280.6,594.5 L304.5,592.4 Q310,592.2 310.3,596.3 Q310.3,600.3 306.5,601.9 L256,618.2 Z" stroke="#111" stroke-width="1.12" fill="#fff" />
<path d="M257,614 L281.6,600 L306,594.6" stroke="#222" stroke-width="0.9" fill="none" />
<path d="M243.5,600 L257.3,593.4 L280.6,585.4 L282.3,589.6 L263,597 L247.5,605.5 Z" stroke="#111" stroke-width="1.12" fill="#fff" />
<path d="M256.5,593.8 L262.5,591.2 L266,593.6 L259.5,596.4" stroke="#111" stroke-width="0.9" fill="#fff" />
<path d="M263,597 Q268.5,594.8 271,598 Q268,602 262.5,603.8" stroke="#111" stroke-width="1.01" fill="#fff" />
<path d="M252,606.5 Q259,606 263.5,600.5 M255,609 Q262,607.5 266.5,602.5" stroke="#222" stroke-width="0.9" fill="none" />
<path d="M266,603.5 Q270,596 277,594.6 L283.5,592.6" stroke="#222" stroke-width="1.01" fill="none" />
<ellipse cx="279.4" cy="597.8" rx="1.7" ry="1.5" transform="rotate(0 279.4 597.8)" stroke="#111" stroke-width="0.8" fill="#111"/>
<ellipse cx="274.1" cy="596.7" rx="1.4" ry="1.2" transform="rotate(0 274.1 596.7)" stroke="#111" stroke-width="0.7" fill="#fff"/>
<path d="M280.6,585.4 Q287,578.8 293.5,578.6 Q298.5,579.5 297.6,583 Q297,585.6 294,586.8 L283,592 Q281.5,589 280.6,585.4 Z" stroke="#111" stroke-width="1.12" fill="#fff" />
<path d="M281.2,585.2 Q287.2,579.2 293.5,578.8" stroke="#111" stroke-width="2.24" fill="none" />
<path d="M283.5,590.5 Q284.5,585.5 290.5,582" stroke="#222" stroke-width="0.78" fill="none" />
<path d="M238,609 L240.5,602.5 L243.5,600 L248,607.5 L252,611.5 L255,615.5 L254,619.5 L244.5,621.3 L238.8,617.5 Z" stroke="#111" stroke-width="1.23" fill="#fff" />
<path d="M239,610 L243.5,604 L247.5,611 L241,613 Z" stroke="#111" stroke-width="0.9" fill="#2a2a2a" />
<path d="M240,613.5 L247,616.5 M240,616 L246.5,619.5" stroke="#111" stroke-width="1.68" fill="none" />
<path d="M249,612.5 L253.5,617.8" stroke="#111" stroke-width="2.24" fill="none" />
<path d="M241,601.5 L240.8,598.8 L243.8,600.2" stroke="#222" stroke-width="0.78" fill="none" />
<ellipse cx="251.0" cy="618.6" rx="1.6" ry="1.4" transform="rotate(0 251.0 618.6)" stroke="#111" stroke-width="0.9" fill="#555"/>
<path d="M118.9,638.9 L83.4,658.4 L88.6,667.6 L123.5,647.1 Z" stroke="#111" stroke-width="1.01" fill="#242424" />
<ellipse cx="117.7" cy="645.0" rx="0.9" ry="3.3" transform="rotate(-29.6 117.7 645.0)" stroke="#fff" stroke-width="0.3" fill="#fff"/>
<ellipse cx="114.6" cy="646.8" rx="0.9" ry="3.3" transform="rotate(-29.6 114.6 646.8)" stroke="#fff" stroke-width="0.3" fill="#fff"/>
<ellipse cx="111.5" cy="648.5" rx="0.9" ry="3.3" transform="rotate(-29.6 111.5 648.5)" stroke="#fff" stroke-width="0.3" fill="#fff"/>
<ellipse cx="108.4" cy="650.3" rx="0.9" ry="3.3" transform="rotate(-29.6 108.4 650.3)" stroke="#fff" stroke-width="0.3" fill="#fff"/>
<ellipse cx="105.3" cy="652.1" rx="0.9" ry="3.3" transform="rotate(-29.6 105.3 652.1)" stroke="#fff" stroke-width="0.3" fill="#fff"/>
<path d="M97.4,650.8 L102.4,659.5" stroke="#888" stroke-width="0.45" fill="none" />
<path d="M95.3,652.0 L100.2,660.7" stroke="#888" stroke-width="0.45" fill="none" />
<path d="M93.1,653.2 L98.1,661.9" stroke="#888" stroke-width="0.45" fill="none" />
<path d="M90.9,654.5 L95.9,663.2" stroke="#888" stroke-width="0.45" fill="none" />
<path d="M88.8,655.7 L93.7,664.4" stroke="#888" stroke-width="0.45" fill="none" />
<path d="M86.6,656.9 L91.6,665.6" stroke="#888" stroke-width="0.45" fill="none" />
<path d="M120.4,638.7 L117.7,640.3 L121.9,647.3 L124.6,645.7 Z" stroke="#111" stroke-width="1.01" fill="#fff" />
<path d="M65.8,663.6 Q70,658.5 76.1,656.3 Q79,655.5 81.5,657.5 L88.5,669 Q89.5,672 87,673.5 L71.7,679.3 Q66,673 65.8,663.6 Z" stroke="#111" stroke-width="1.12" fill="#fff" />
<path d="M78,656 Q85,663 85.2,674" stroke="#222" stroke-width="0.9" fill="none" />
<path d="M71.7,679.3 L58,685.3 Q54.5,686.3 54,683 Q53.5,678 57.5,674.5 L66.3,668" stroke="#111" stroke-width="1.12" fill="#fff" />
<ellipse cx="59.3" cy="680.5" rx="1.4" ry="3.0" transform="rotate(18 59.3 680.5)" stroke="#111" stroke-width="0.9" fill="#fff"/>
<ellipse cx="64.0" cy="678.2" rx="1.4" ry="3.0" transform="rotate(18 64.0 678.2)" stroke="#111" stroke-width="0.9" fill="#fff"/>
<ellipse cx="68.4" cy="675.9" rx="1.4" ry="3.0" transform="rotate(18 68.4 675.9)" stroke="#111" stroke-width="0.9" fill="#fff"/>
<path d="M65.8,663.6 L44,675.5 L26,686 Q20,689.5 20.5,692 L23,698.5 Q25,702.5 29,701 L36,698.5 L35,694.5 L45,686.5 L57.5,674.5" stroke="#111" stroke-width="1.12" fill="#fff" />
<path d="M64,666 L46.5,676.5 L33,685.5 L31.5,689 L34,696" stroke="#222" stroke-width="0.9" fill="none" />
<path d="M62,669.5 L48,678.5 L41,684.5 L53.5,680" stroke="#222" stroke-width="0.9" fill="none" />
<path d="M44,675.5 L47.5,681 M26,686 L31.5,689" stroke="#222" stroke-width="0.78" fill="none" />
<path d="M23.5,690.5 Q27,694 26.5,700.5" stroke="#222" stroke-width="0.9" fill="none" />
<path d="M36,696 L38.5,691.5 L51.5,687 Q53.5,687 53.5,689 L53.5,694.5 L39.5,700.5 L36.5,700 Z" stroke="#111" stroke-width="1.12" fill="#fff" />
<path d="M41,693 L52,689 L52,693.5 L41.5,698 Z" stroke="#111" stroke-width="0.9" fill="#2a2a2a" />
<path d="M21,691.5 Q11,696.5 9.3,707 L8.6,713" stroke="#111" stroke-width="1.12" fill="none" />
<path d="M26.5,700.5 Q19,702.5 18,708 L17.8,714" stroke="#111" stroke-width="1.12" fill="none" />
<path d="M8.6,713 L8.2,730 Q8.4,734.2 13.2,734.3 Q18,734.2 18.3,730 L17.8,714" stroke="#111" stroke-width="1.12" fill="#fff" />
<path d="M8.6,713 Q13,715 17.8,714" stroke="#222" stroke-width="0.9" fill="none" />
<path d="M8.5,716.5 Q13,718.3 18,717.1" stroke="#222" stroke-width="0.67" fill="none" />
<path d="M8.5,719.5 Q13,721.3 18,720.1" stroke="#222" stroke-width="0.67" fill="none" />
<path d="M8.5,722 Q13,723.8 18,722.6" stroke="#222" stroke-width="0.67" fill="none" />
<path d="M8.5,724.5 Q13,726.3 18,725.1" stroke="#222" stroke-width="0.67" fill="none" />
<ellipse cx="13.2" cy="731.0" rx="4.3" ry="2.6" transform="rotate(0 13.2 731.0)" stroke="#111" stroke-width="1.0" fill="#fff"/>
<ellipse cx="13.2" cy="731.0" rx="2.6" ry="1.5" transform="rotate(0 13.2 731.0)" stroke="#111" stroke-width="0.8" fill="#666"/>
</g>
<g id="leaders">
<line x1="172.7" y1="24.9" x2="393.9" y2="254.6" stroke="#3a3a3a" stroke-width="0.75"/>
<circle cx="393.9" cy="254.6" r="2.1" fill="#111"/>
<circle cx="167.6" cy="19.6" r="7.4" stroke="#444" stroke-width="0.8" fill="#fff"/>
<text x="167.6" y="24.9" font-size="11.4">1</text>
<line x1="292.7" y1="26.0" x2="465.5" y2="315.5" stroke="#3a3a3a" stroke-width="0.75"/>
<circle cx="465.5" cy="315.5" r="2.1" fill="#111"/>
<circle cx="288.9" cy="19.6" r="7.4" stroke="#444" stroke-width="0.8" fill="#fff"/>
<text x="288.9" y="24.9" font-size="11.4">2</text>
<line x1="416.6" y1="26.7" x2="520.2" y2="337.5" stroke="#3a3a3a" stroke-width="0.75"/>
<circle cx="520.2" cy="337.5" r="2.1" fill="#111"/>
<circle cx="414.3" cy="19.7" r="7.4" stroke="#444" stroke-width="0.8" fill="#fff"/>
<text x="414.3" y="25.0" font-size="11.4">3</text>
<line x1="529.5" y1="27.1" x2="523.9" y2="265.4" stroke="#3a3a3a" stroke-width="0.75"/>
<circle cx="523.9" cy="265.4" r="2.1" fill="#111"/>
<circle cx="529.7" cy="19.7" r="7.4" stroke="#444" stroke-width="0.8" fill="#fff"/>
<text x="529.7" y="25.0" font-size="11.4">4</text>
<line x1="641.5" y1="26.8" x2="621.3" y2="99.9" stroke="#3a3a3a" stroke-width="0.75"/>
<circle cx="621.3" cy="99.9" r="2.1" fill="#111"/>
<circle cx="643.5" cy="19.7" r="7.4" stroke="#444" stroke-width="0.8" fill="#fff"/>
<text x="643.5" y="25.0" font-size="11.4">5</text>
<line x1="751.7" y1="26.4" x2="690.6" y2="162.0" stroke="#3a3a3a" stroke-width="0.75"/>
<circle cx="690.6" cy="162.0" r="2.1" fill="#111"/>
<circle cx="754.7" cy="19.7" r="7.4" stroke="#444" stroke-width="0.8" fill="#fff"/>
<text x="754.7" y="25.0" font-size="11.4">6</text>
<line x1="853.4" y1="25.9" x2="643.0" y2="330.0" stroke="#3a3a3a" stroke-width="0.75"/>
<circle cx="857.6" cy="19.8" r="7.4" stroke="#444" stroke-width="0.8" fill="#fff"/>
<text x="857.6" y="25.1" font-size="11.4">7</text>
<line x1="945.1" y1="26.4" x2="863.0" y2="186.0" stroke="#3a3a3a" stroke-width="0.75"/>
<circle cx="948.5" cy="19.8" r="7.4" stroke="#444" stroke-width="0.8" fill="#fff"/>
<text x="948.5" y="25.1" font-size="11.4">8</text>
<line x1="942.6" y1="133.4" x2="898.5" y2="166.2" stroke="#3a3a3a" stroke-width="0.75"/>
<circle cx="898.5" cy="166.2" r="2.1" fill="#111"/>
<circle cx="948.5" cy="129" r="7.4" stroke="#444" stroke-width="0.8" fill="#fff"/>
<text x="948.5" y="134.3" font-size="11.4">9</text>
<line x1="940.7" y1="224.0" x2="820.8" y2="237.6" stroke="#3a3a3a" stroke-width="0.75"/>
<circle cx="820.8" cy="237.6" r="2.1" fill="#111"/>
<circle cx="949.4" cy="223" r="8.8" stroke="#444" stroke-width="0.8" fill="#fff"/>
<text x="949.4" y="228.1" font-size="12.4">10</text>
<line x1="940.6" y1="277.7" x2="810.5" y2="282.6" stroke="#3a3a3a" stroke-width="0.75"/>
<circle cx="949.4" cy="277.4" r="8.8" stroke="#444" stroke-width="0.8" fill="#fff"/>
<text x="949.4" y="282.5" font-size="12.4">11</text>
<line x1="940.7" y1="336.4" x2="750.3" y2="312.3" stroke="#3a3a3a" stroke-width="0.75"/>
<circle cx="750.3" cy="312.3" r="2.1" fill="#111"/>
<circle cx="949.4" cy="337.5" r="8.8" stroke="#444" stroke-width="0.8" fill="#fff"/>
<text x="949.4" y="342.6" font-size="12.4">12</text>
<line x1="940.9" y1="394.0" x2="750.0" y2="348.6" stroke="#3a3a3a" stroke-width="0.75"/>
<circle cx="750.0" cy="348.6" r="2.1" fill="#111"/>
<circle cx="949.5" cy="396" r="8.8" stroke="#444" stroke-width="0.8" fill="#fff"/>
<text x="949.5" y="401.1" font-size="12.4">13</text>
<line x1="941.1" y1="460.4" x2="700.0" y2="385.2" stroke="#3a3a3a" stroke-width="0.75"/>
<circle cx="949.5" cy="463" r="8.8" stroke="#444" stroke-width="0.8" fill="#fff"/>
<text x="949.5" y="468.1" font-size="12.4">14</text>
<line x1="941.7" y1="517.2" x2="690.7" y2="387.6" stroke="#3a3a3a" stroke-width="0.75"/>
<circle cx="949.5" cy="521.2" r="8.8" stroke="#444" stroke-width="0.8" fill="#fff"/>
<text x="949.5" y="526.3" font-size="12.4">15</text>
<line x1="942.3" y1="590.8" x2="612.2" y2="358.3" stroke="#3a3a3a" stroke-width="0.75"/>
<circle cx="612.2" cy="358.3" r="2.1" fill="#111"/>
<circle cx="949.5" cy="595.9" r="8.8" stroke="#444" stroke-width="0.8" fill="#fff"/>
<text x="949.5" y="601.0" font-size="12.4">16</text>
<line x1="942.9" y1="667.9" x2="594.9" y2="350.8" stroke="#3a3a3a" stroke-width="0.75"/>
<circle cx="594.9" cy="350.8" r="2.1" fill="#111"/>
<circle cx="949.4" cy="673.8" r="8.8" stroke="#444" stroke-width="0.8" fill="#fff"/>
<text x="949.4" y="678.9" font-size="12.4">17</text>
<line x1="821.5" y1="666.6" x2="645.2" y2="423.7" stroke="#3a3a3a" stroke-width="0.75"/>
<circle cx="826.7" cy="673.7" r="8.8" stroke="#444" stroke-width="0.8" fill="#fff"/>
<text x="826.7" y="678.8" font-size="12.4">18</text>
<line x1="708.0" y1="665.8" x2="568.5" y2="389.0" stroke="#3a3a3a" stroke-width="0.75"/>
<circle cx="568.5" cy="389.0" r="2.1" fill="#111"/>
<circle cx="712" cy="673.7" r="8.8" stroke="#444" stroke-width="0.8" fill="#fff"/>
<text x="712" y="678.8" font-size="12.4">19</text>
<line x1="611.7" y1="665.9" x2="514.5" y2="466.5" stroke="#3a3a3a" stroke-width="0.75"/>
<circle cx="615.6" cy="673.8" r="8.8" stroke="#444" stroke-width="0.8" fill="#fff"/>
<text x="615.6" y="678.9" font-size="12.4">20</text>
<line x1="524.5" y1="665.1" x2="494.9" y2="471.0" stroke="#3a3a3a" stroke-width="0.75"/>
<circle cx="494.9" cy="471.0" r="2.1" fill="#111"/>
<circle cx="525.8" cy="673.8" r="8.8" stroke="#444" stroke-width="0.8" fill="#fff"/>
<text x="525.8" y="678.9" font-size="12.4">21</text>
<line x1="417.6" y1="665.3" x2="474.3" y2="447.5" stroke="#3a3a3a" stroke-width="0.75"/>
<circle cx="415.4" cy="673.8" r="8.8" stroke="#444" stroke-width="0.8" fill="#fff"/>
<text x="415.4" y="678.9" font-size="12.4">22</text>
<line x1="310.1" y1="666.4" x2="387.5" y2="546.5" stroke="#3a3a3a" stroke-width="0.75"/>
<circle cx="305.3" cy="673.8" r="8.8" stroke="#444" stroke-width="0.8" fill="#fff"/>
<text x="305.3" y="678.9" font-size="12.4">23</text>
<line x1="178.1" y1="668.4" x2="243.0" y2="618.0" stroke="#3a3a3a" stroke-width="0.75"/>
<circle cx="171.2" cy="673.8" r="8.8" stroke="#444" stroke-width="0.8" fill="#fff"/>
<text x="171.2" y="678.9" font-size="12.4">24</text>
<line x1="179.2" y1="557.6" x2="293.0" y2="532.7" stroke="#3a3a3a" stroke-width="0.75"/>
<circle cx="170.6" cy="559.5" r="8.8" stroke="#444" stroke-width="0.8" fill="#fff"/>
<text x="170.6" y="564.6" font-size="12.4">25</text>
<line x1="179.4" y1="463.5" x2="382.4" y2="460.4" stroke="#3a3a3a" stroke-width="0.75"/>
<circle cx="382.4" cy="460.4" r="2.1" fill="#111"/>
<circle cx="170.6" cy="463.6" r="8.8" stroke="#444" stroke-width="0.8" fill="#fff"/>
<text x="170.6" y="468.7" font-size="12.4">26</text>
<line x1="179.2" y1="383.1" x2="362.8" y2="418.2" stroke="#3a3a3a" stroke-width="0.75"/>
<circle cx="362.8" cy="418.2" r="2.1" fill="#111"/>
<circle cx="170.6" cy="381.4" r="8.8" stroke="#444" stroke-width="0.8" fill="#fff"/>
<text x="170.6" y="386.5" font-size="12.4">27</text>
<line x1="175.5" y1="261.7" x2="389.2" y2="393.6" stroke="#3a3a3a" stroke-width="0.75"/>
<circle cx="389.2" cy="393.6" r="2.1" fill="#111"/>
<circle cx="168" cy="257.1" r="8.8" stroke="#444" stroke-width="0.8" fill="#fff"/>
<text x="168" y="262.2" font-size="12.4">28</text>
<line x1="174.8" y1="153.5" x2="503.5" y2="391.0" stroke="#3a3a3a" stroke-width="0.75"/>
<circle cx="503.5" cy="391.0" r="2.1" fill="#111"/>
<circle cx="167.7" cy="148.3" r="8.8" stroke="#444" stroke-width="0.8" fill="#fff"/>
<text x="167.7" y="153.4" font-size="12.4">29</text>
</g>
</svg></body></html>
